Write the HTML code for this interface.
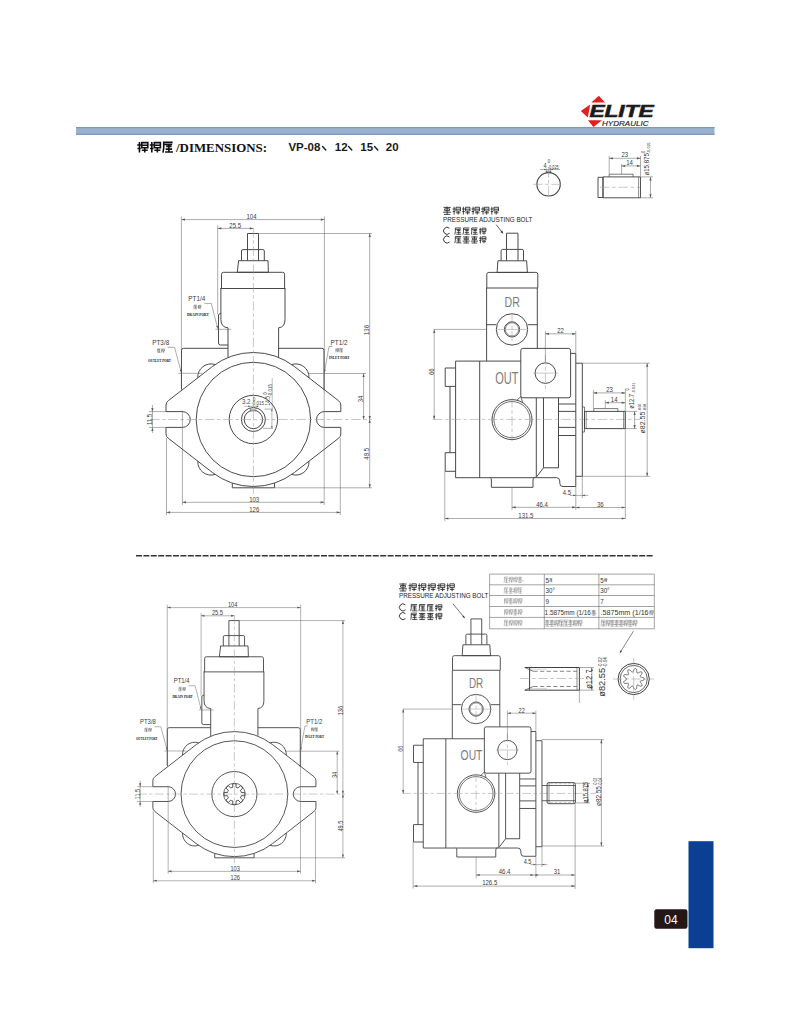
<!DOCTYPE html>
<html><head><meta charset="utf-8">
<style>
html,body{margin:0;padding:0;background:#fff;}
body{width:790px;height:1024px;position:relative;overflow:hidden;font-family:"Liberation Sans",sans-serif;}
svg{position:absolute;left:0;top:0;}
</style></head><body>
<svg width="790" height="1024" viewBox="0 0 790 1024">
<rect x="76" y="127" width="638.5" height="8" fill="#9ab1cf"/>
<rect x="76" y="127" width="638.5" height="1.2" fill="#7d98ba"/>
<rect x="76" y="133.6" width="638.5" height="1.2" fill="#7d98ba"/>
<polygon points="591.2,102.6 598.9,95.8 605,102.6" fill="#e02020"/>
<polygon points="580.8,111 590.2,104.6 587.8,117.4" fill="#e02020"/>
<polygon points="588,120.2 602,120.2 593.4,127" fill="#e02020"/>
<text x="589.5" y="117.3" font-family="Liberation Sans" font-size="16.8" font-weight="bold" font-style="italic" fill="#1a1a1a" stroke="#1a1a1a" stroke-width="0.6" textLength="64" lengthAdjust="spacingAndGlyphs">ELITE</text>
<text x="602" y="126.4" font-family="Liberation Sans" font-size="7.6" font-style="italic" fill="#222" stroke="#222" stroke-width="0.15" textLength="46.5" lengthAdjust="spacingAndGlyphs">HYDRAULIC</text>
<path d="M139.46,142.02V152.6M137.2,145.04H140.98M137.42,148.5H140.76M141.74,142.66H147.78V147.74H141.74ZM141.74,145.26H147.78M144.76,147.74V152.6M141.74,150.22H147.78M151.82,142.02V152.6M149.8,145.04H153.58M150.02,148.5H153.36M154.34,142.66H160.38V147.74H154.34ZM154.34,145.26H160.38M157.36,147.74V152.6M154.34,150.22H160.38M162.94,152.6L163.7,148.28V142.34H172.66M163.7,144.5H172.12M166.18,146.34H171.58M168.88,144.5V152.06M165.64,149.14H172.12M165.1,152.06H172.98" fill="none" stroke="#111" stroke-width="1.6" stroke-linecap="butt"/>
<text x="176" y="152" font-family="Liberation Serif" font-size="13" font-weight="bold" fill="#111" textLength="91" lengthAdjust="spacingAndGlyphs">/DIMENSIONS:</text>
<text x="288.4" y="150.7" font-family="Liberation Sans" font-size="11.5" font-weight="bold" fill="#1a1a1a">VP-08</text>
<text x="334.8" y="150.7" font-family="Liberation Sans" font-size="11.5" font-weight="bold" fill="#1a1a1a">12</text>
<text x="360.3" y="150.7" font-family="Liberation Sans" font-size="11.5" font-weight="bold" fill="#1a1a1a">15</text>
<text x="385.8" y="150.7" font-family="Liberation Sans" font-size="11.5" font-weight="bold" fill="#1a1a1a">20</text>
<path d="M322.6,146.6 l3.2,3.4 M348.6,146.6 l3.2,3.4 M374.6,146.6 l3.2,3.4" stroke="#1a1a1a" stroke-width="1.4" stroke-linecap="round"/>
<line x1="136" y1="555.7" x2="654" y2="555.7" stroke="#333" stroke-width="1.5" stroke-dasharray="6,1.4"/>
<rect x="688.5" y="841.2" width="25" height="107" fill="#0a3f93"/>
<rect x="654.3" y="909.2" width="33.2" height="19.6" rx="2.2" fill="#231815"/>
<text x="670.9" y="923.6" font-family="Liberation Sans" font-size="12" fill="#fff" text-anchor="middle">04</text>
<g><path d="M247.5,249.6 L247.5,233.5 L258.5,233.5 L258.5,249.6" fill="none" stroke="#404040" stroke-width="0.95" stroke-linejoin="round"/><line x1="247.5" y1="249.6" x2="247.5" y2="260.7" stroke="#404040" stroke-width="0.95" /><line x1="258.5" y1="249.6" x2="258.5" y2="260.7" stroke="#404040" stroke-width="0.95" /><path d="M241.5,260.7 V251 Q241.5,249.6 243,249.6 H262.8 Q264.3,249.6 264.3,251 V260.7" fill="none" stroke="#404040" stroke-width="0.95" stroke-linejoin="round"/><path d="M238.6,260.7 L268,260.7 L268.4,272.3 L237.3,272.3 Z" fill="none" stroke="#404040" stroke-width="0.95" stroke-linejoin="round"/><path d="M221.5,288.5 V274.3 Q221.5,272.3 223.5,272.3 H282.6 Q284.6,272.3 284.6,274.3 V288.5" fill="none" stroke="#404040" stroke-width="0.95" stroke-linejoin="round"/><line x1="220.3" y1="288.5" x2="285.4" y2="288.5" stroke="#404040" stroke-width="0.95" /><path d="M220.9,288.5 V319.5 Q220.9,327.3 228,327.8 V357.5" fill="none" stroke="#404040" stroke-width="0.95" stroke-linejoin="round"/><path d="M285,288.5 V319.5 Q285,327.3 278.6,327.8 V357" fill="none" stroke="#404040" stroke-width="0.95" stroke-linejoin="round"/><path d="M220.9,313.2 L218.5,314.6 V343 Q218.5,345 220.5,345 H228" fill="none" stroke="#404040" stroke-width="0.95" stroke-linejoin="round"/><path d="M228,348.3 H183.5 Q181.5,348.3 181.5,350.3 V389.6" fill="none" stroke="#404040" stroke-width="0.95" stroke-linejoin="round"/><path d="M278.6,348.3 H322 Q324,348.3 324,350.3 V390.5" fill="none" stroke="#404040" stroke-width="0.95" stroke-linejoin="round"/><path d="M212.4,366.5 L168.4,400.6 Q166,402.4 166,405 V411.6 H182.4 A7.9,7.9 0 0 1 182.4,427.4 H166 V434 Q166,436.6 168.4,438.4 L212.4,472.5 A67,67 0 0 0 294.4,472.5 L338.4,438.4 Q340.8,436.6 340.8,434 V427.4 H324.4 A7.9,7.9 0 0 1 324.4,411.6 H340.8 V405 Q340.8,402.4 338.4,400.6 L294.4,366.5 A67,67 0 0 0 212.4,366.5" fill="none" stroke="#404040" stroke-width="0.95" stroke-linejoin="round"/><path d="M197.82,377.8 A13.2,13.2 0 0 1 215.07,364.54" fill="none" stroke="#404040" stroke-width="0.95" stroke-linejoin="round"/><path d="M308.98,377.8 A13.2,13.2 0 0 0 291.73,364.54" fill="none" stroke="#404040" stroke-width="0.95" stroke-linejoin="round"/><path d="M197.82,461.2 A13.2,13.2 0 0 0 215.07,474.46" fill="none" stroke="#404040" stroke-width="0.95" stroke-linejoin="round"/><path d="M308.98,461.2 A13.2,13.2 0 0 1 291.73,474.46" fill="none" stroke="#404040" stroke-width="0.95" stroke-linejoin="round"/><path d="M232.3,483.2 V487.8 H274.5 V483.2" fill="none" stroke="#404040" stroke-width="0.95" stroke-linejoin="round"/><circle cx="253.4" cy="419.5" r="57.2" fill="none" stroke="#404040" stroke-width="0.95"/><circle cx="253.4" cy="419.5" r="24.2" fill="none" stroke="#404040" stroke-width="0.95"/><circle cx="253.4" cy="419.5" r="12" fill="none" stroke="#404040" stroke-width="0.95"/><circle cx="253.4" cy="419.5" r="9.2" fill="none" stroke="#404040" stroke-width="0.95"/><path d="M250.4,408.3 L250.4,410.8 L255.8,410.8 L255.8,408.3" fill="none" stroke="#404040" stroke-width="0.7" stroke-linejoin="round"/><rect x="250.6" y="408.5" width="5" height="2.2" fill="#bbb"/><line x1="253.4" y1="228" x2="253.4" y2="495" stroke="#9a9a9a" stroke-width="0.55" stroke-dasharray="9.5 2.6 3.6 2.6"/><line x1="150" y1="419.5" x2="372" y2="419.5" stroke="#9a9a9a" stroke-width="0.55" stroke-dasharray="9.5 2.6 3.6 2.6"/><line x1="181.4" y1="216.5" x2="181.4" y2="389" stroke="#5a5a5a" stroke-width="0.5" /><line x1="324.4" y1="216.5" x2="324.4" y2="390" stroke="#5a5a5a" stroke-width="0.5" /><line x1="181.4" y1="219.6" x2="324.4" y2="219.6" stroke="#5a5a5a" stroke-width="0.5" /><path d="M181.4,219.6 L185,218.5 L185,220.7 Z" fill="#5a5a5a" stroke="none"/><path d="M324.4,219.6 L320.8,220.7 L320.8,218.5 Z" fill="#5a5a5a" stroke="none"/><text transform="translate(251.5,218.8) scale(0.84,1)" font-family="Liberation Sans" font-size="7.2" font-weight="normal" text-anchor="middle" fill="#3a3a3a">104</text><line x1="217.7" y1="225.5" x2="217.7" y2="314" stroke="#5a5a5a" stroke-width="0.5" /><line x1="217.7" y1="228.4" x2="253.4" y2="228.4" stroke="#5a5a5a" stroke-width="0.5" /><path d="M217.7,228.4 L221.3,227.3 L221.3,229.5 Z" fill="#5a5a5a" stroke="none"/><path d="M253.4,228.4 L249.8,229.5 L249.8,227.3 Z" fill="#5a5a5a" stroke="none"/><text transform="translate(235.2,227.9) scale(0.84,1)" font-family="Liberation Sans" font-size="7.2" font-weight="normal" text-anchor="middle" fill="#3a3a3a">25.5</text><line x1="258.5" y1="233.5" x2="372" y2="233.5" stroke="#5a5a5a" stroke-width="0.5" /><line x1="369.7" y1="233.5" x2="369.7" y2="419.5" stroke="#5a5a5a" stroke-width="0.5" /><path d="M369.7,233.5 L370.8,237.1 L368.6,237.1 Z" fill="#5a5a5a" stroke="none"/><path d="M369.7,419.5 L368.6,415.9 L370.8,415.9 Z" fill="#5a5a5a" stroke="none"/><text transform="translate(369.3,330) rotate(-90) scale(0.84,1)" font-family="Liberation Sans" font-size="7.2" font-weight="normal" text-anchor="middle" fill="#3a3a3a">136</text><line x1="308" y1="373.5" x2="366" y2="373.5" stroke="#5a5a5a" stroke-width="0.5" /><line x1="363.6" y1="373.5" x2="363.6" y2="419.5" stroke="#5a5a5a" stroke-width="0.5" /><path d="M363.6,373.5 L364.7,377.1 L362.5,377.1 Z" fill="#5a5a5a" stroke="none"/><path d="M363.6,419.5 L362.5,415.9 L364.7,415.9 Z" fill="#5a5a5a" stroke="none"/><text transform="translate(363.2,399) rotate(-90) scale(0.84,1)" font-family="Liberation Sans" font-size="7.2" font-weight="normal" text-anchor="middle" fill="#3a3a3a">34</text><line x1="274.5" y1="487.8" x2="372" y2="487.8" stroke="#5a5a5a" stroke-width="0.5" /><line x1="369.7" y1="419.5" x2="369.7" y2="487.8" stroke="#5a5a5a" stroke-width="0.5" /><path d="M369.7,419.5 L370.8,423.1 L368.6,423.1 Z" fill="#5a5a5a" stroke="none"/><path d="M369.7,487.8 L368.6,484.2 L370.8,484.2 Z" fill="#5a5a5a" stroke="none"/><text transform="translate(369.3,453.8) rotate(-90) scale(0.84,1)" font-family="Liberation Sans" font-size="7.2" font-weight="normal" text-anchor="middle" fill="#3a3a3a">49.5</text><line x1="182.4" y1="410.5" x2="182.4" y2="505" stroke="#5a5a5a" stroke-width="0.5" /><line x1="324.2" y1="390.5" x2="324.2" y2="505" stroke="#5a5a5a" stroke-width="0.5" /><line x1="182.4" y1="502.3" x2="324.2" y2="502.3" stroke="#5a5a5a" stroke-width="0.5" /><path d="M182.4,502.3 L186,501.2 L186,503.4 Z" fill="#5a5a5a" stroke="none"/><path d="M324.2,502.3 L320.6,503.4 L320.6,501.2 Z" fill="#5a5a5a" stroke="none"/><text transform="translate(254.2,502) scale(0.84,1)" font-family="Liberation Sans" font-size="7.2" font-weight="normal" text-anchor="middle" fill="#3a3a3a">103</text><line x1="166.5" y1="438" x2="166.5" y2="515" stroke="#5a5a5a" stroke-width="0.5" /><line x1="340.3" y1="438" x2="340.3" y2="515" stroke="#5a5a5a" stroke-width="0.5" /><line x1="166.5" y1="512.4" x2="340.3" y2="512.4" stroke="#5a5a5a" stroke-width="0.5" /><path d="M166.5,512.4 L170.1,511.3 L170.1,513.5 Z" fill="#5a5a5a" stroke="none"/><path d="M340.3,512.4 L336.7,513.5 L336.7,511.3 Z" fill="#5a5a5a" stroke="none"/><text transform="translate(254.3,512) scale(0.84,1)" font-family="Liberation Sans" font-size="7.2" font-weight="normal" text-anchor="middle" fill="#3a3a3a">126</text><line x1="149" y1="411.6" x2="166" y2="411.6" stroke="#5a5a5a" stroke-width="0.5" /><line x1="149" y1="427.4" x2="166" y2="427.4" stroke="#5a5a5a" stroke-width="0.5" /><line x1="152.4" y1="405" x2="152.4" y2="433" stroke="#5a5a5a" stroke-width="0.5" /><path d="M152.4,411.6 L151.3,408 L153.5,408 Z" fill="#5a5a5a" stroke="none"/><path d="M152.4,427.4 L153.5,431 L151.3,431 Z" fill="#5a5a5a" stroke="none"/><text transform="translate(151.9,419.5) rotate(-90) scale(0.84,1)" font-family="Liberation Sans" font-size="7.0" font-weight="normal" text-anchor="middle" fill="#3a3a3a">11.5</text><text transform="translate(196.8,300.6) scale(0.86,1)" font-family="Liberation Sans" font-size="7.4" font-weight="normal" text-anchor="middle" fill="#3a3a3a">PT1/4</text><line x1="204.4" y1="303.4" x2="211.3" y2="303.4" stroke="#5a5a5a" stroke-width="0.5" /><line x1="211.3" y1="303.4" x2="217.7" y2="328.5" stroke="#5a5a5a" stroke-width="0.5" /><path d="M217.7,328.8 L216.18,326.09 L217.73,325.7 Z" fill="#5a5a5a" stroke="none"/><line x1="215.3" y1="329.3" x2="231.2" y2="329.3" stroke="#5a5a5a" stroke-width="0.5" /><text transform="translate(160.7,344.6) scale(0.86,1)" font-family="Liberation Sans" font-size="7.4" font-weight="normal" text-anchor="middle" fill="#3a3a3a">PT3/8</text><line x1="167.8" y1="347.3" x2="174.5" y2="347.3" stroke="#5a5a5a" stroke-width="0.5" /><line x1="174.5" y1="347.3" x2="181.3" y2="372.4" stroke="#5a5a5a" stroke-width="0.5" /><path d="M181.4,372.6 L179.84,369.91 L181.39,369.5 Z" fill="#5a5a5a" stroke="none"/><line x1="178.4" y1="373.3" x2="202" y2="373.3" stroke="#5a5a5a" stroke-width="0.5" /><text transform="translate(339,344.6) scale(0.86,1)" font-family="Liberation Sans" font-size="7.4" font-weight="normal" text-anchor="middle" fill="#3a3a3a">PT1/2</text><line x1="332.3" y1="346.5" x2="329" y2="346.5" stroke="#5a5a5a" stroke-width="0.5" /><line x1="329" y1="346.5" x2="324.4" y2="372.5" stroke="#5a5a5a" stroke-width="0.5" /><path d="M324.4,372.6 L324.13,369.51 L325.71,369.79 Z" fill="#5a5a5a" stroke="none"/><path d="M193.77,309L194.02,307.36V305.1H196.91M194.02,305.92H196.74M194.82,306.62H196.56M195.69,305.92V308.79M194.65,307.69H196.74M194.47,308.79H197.02M198.46,304.98V309M197.6,306.13H198.82M197.67,307.44H198.75M199.06,305.23H201.02V307.15H199.06ZM199.06,306.21H201.02M200.04,307.15V309M199.06,308.1H201.02" fill="none" stroke="#666" stroke-width="0.5" stroke-linecap="butt"/><text x="197.9" y="316" font-family="Liberation Serif" font-size="3.9" font-weight="bold" fill="#111" text-anchor="middle" textLength="21.8" lengthAdjust="spacingAndGlyphs">DRAIN PORT</text><path d="M157.27,352.7L157.52,351.06V348.81H160.41M157.52,349.62H160.24M158.32,350.32H160.06M159.19,349.62V352.5M158.15,351.39H160.24M157.97,352.5H160.52M161.68,348.68V352.7M161.1,349.83H162.32M161.17,351.14H162.25M162.56,348.93H164.52V350.86H162.56ZM162.56,349.91H164.52M163.54,350.86V352.7M162.56,351.8H164.52" fill="none" stroke="#666" stroke-width="0.5" stroke-linecap="butt"/><text x="159.6" y="361.6" font-family="Liberation Serif" font-size="3.9" font-weight="bold" fill="#111" text-anchor="middle" textLength="22.8" lengthAdjust="spacingAndGlyphs">OUTLET PORT</text><path d="M336.02,348.28V352.3M335.5,349.43H336.72M335.57,350.74H336.65M336.96,348.53H338.92V350.45H336.96ZM336.96,349.51H338.92M337.94,350.45V352.3M336.96,351.4H338.92M339.67,352.3L339.92,350.66V348.4H342.81M339.92,349.22H342.64M340.72,349.92H342.46M341.59,349.22V352.09M340.55,350.99H342.64M340.37,352.09H342.92" fill="none" stroke="#666" stroke-width="0.5" stroke-linecap="butt"/><text x="339.2" y="359.1" font-family="Liberation Serif" font-size="3.9" font-weight="bold" fill="#111" text-anchor="middle" textLength="20.5" lengthAdjust="spacingAndGlyphs">INLET PORT</text><line x1="244.4" y1="406.3" x2="258.8" y2="406.3" stroke="#5a5a5a" stroke-width="0.45" /><path d="M250.4,406.3 L248.2,407 L248.2,405.6 Z" fill="#5a5a5a" stroke="none"/><path d="M255.8,406.3 L258,405.6 L258,407 Z" fill="#5a5a5a" stroke="none"/><text transform="translate(241.9,404) scale(0.92,1)" font-family="Liberation Sans" font-size="6.6" font-weight="normal" text-anchor="start" fill="#444">3.2</text><text transform="translate(253,400.7) scale(0.9,1)" font-family="Liberation Sans" font-size="4.6" font-weight="normal" text-anchor="start" fill="#444">0</text><text transform="translate(251.4,405.4) scale(0.88,1)" font-family="Liberation Sans" font-size="5" font-weight="normal" text-anchor="start" fill="#444">-0.015</text><line x1="264.5" y1="409.1" x2="273" y2="409.1" stroke="#5a5a5a" stroke-width="0.5" /><line x1="263" y1="428.3" x2="273" y2="428.3" stroke="#5a5a5a" stroke-width="0.5" /><line x1="271.9" y1="409.1" x2="271.9" y2="428.3" stroke="#5a5a5a" stroke-width="0.45" /><path d="M271.9,409.1 L272.6,411.3 L271.2,411.3 Z" fill="#5a5a5a" stroke="none"/><path d="M271.9,428.3 L271.2,426.1 L272.6,426.1 Z" fill="#5a5a5a" stroke="none"/><text transform="translate(269.8,405.4) rotate(-90) scale(0.75,1)" font-family="Liberation Sans" font-size="6.3" font-weight="normal" text-anchor="start" fill="#444">14.5</text><text transform="translate(266.5,394.8) rotate(-90) scale(0.9,1)" font-family="Liberation Sans" font-size="4.6" font-weight="normal" text-anchor="start" fill="#444">0</text><text transform="translate(271.8,396.6) rotate(-90) scale(0.88,1)" font-family="Liberation Sans" font-size="5" font-weight="normal" text-anchor="start" fill="#444">-0.015</text><line x1="272.2" y1="378" x2="272.2" y2="409" stroke="#5a5a5a" stroke-width="0.4" /></g>
<g transform="translate(-2.02,402.71) scale(0.933)"><path d="M247.5,249.6 L247.5,233.5 L258.5,233.5 L258.5,249.6" fill="none" stroke="#404040" stroke-width="0.95" stroke-linejoin="round"/><line x1="247.5" y1="249.6" x2="247.5" y2="260.7" stroke="#404040" stroke-width="0.95" /><line x1="258.5" y1="249.6" x2="258.5" y2="260.7" stroke="#404040" stroke-width="0.95" /><path d="M241.5,260.7 V251 Q241.5,249.6 243,249.6 H262.8 Q264.3,249.6 264.3,251 V260.7" fill="none" stroke="#404040" stroke-width="0.95" stroke-linejoin="round"/><path d="M238.6,260.7 L268,260.7 L268.4,272.3 L237.3,272.3 Z" fill="none" stroke="#404040" stroke-width="0.95" stroke-linejoin="round"/><path d="M221.5,288.5 V274.3 Q221.5,272.3 223.5,272.3 H282.6 Q284.6,272.3 284.6,274.3 V288.5" fill="none" stroke="#404040" stroke-width="0.95" stroke-linejoin="round"/><line x1="220.3" y1="288.5" x2="285.4" y2="288.5" stroke="#404040" stroke-width="0.95" /><path d="M220.9,288.5 V319.5 Q220.9,327.3 228,327.8 V357.5" fill="none" stroke="#404040" stroke-width="0.95" stroke-linejoin="round"/><path d="M285,288.5 V319.5 Q285,327.3 278.6,327.8 V357" fill="none" stroke="#404040" stroke-width="0.95" stroke-linejoin="round"/><path d="M220.9,313.2 L218.5,314.6 V343 Q218.5,345 220.5,345 H228" fill="none" stroke="#404040" stroke-width="0.95" stroke-linejoin="round"/><path d="M228,348.3 H183.5 Q181.5,348.3 181.5,350.3 V389.6" fill="none" stroke="#404040" stroke-width="0.95" stroke-linejoin="round"/><path d="M278.6,348.3 H322 Q324,348.3 324,350.3 V390.5" fill="none" stroke="#404040" stroke-width="0.95" stroke-linejoin="round"/><path d="M212.4,366.5 L168.4,400.6 Q166,402.4 166,405 V411.6 H182.4 A7.9,7.9 0 0 1 182.4,427.4 H166 V434 Q166,436.6 168.4,438.4 L212.4,472.5 A67,67 0 0 0 294.4,472.5 L338.4,438.4 Q340.8,436.6 340.8,434 V427.4 H324.4 A7.9,7.9 0 0 1 324.4,411.6 H340.8 V405 Q340.8,402.4 338.4,400.6 L294.4,366.5 A67,67 0 0 0 212.4,366.5" fill="none" stroke="#404040" stroke-width="0.95" stroke-linejoin="round"/><path d="M197.82,377.8 A13.2,13.2 0 0 1 215.07,364.54" fill="none" stroke="#404040" stroke-width="0.95" stroke-linejoin="round"/><path d="M308.98,377.8 A13.2,13.2 0 0 0 291.73,364.54" fill="none" stroke="#404040" stroke-width="0.95" stroke-linejoin="round"/><path d="M197.82,461.2 A13.2,13.2 0 0 0 215.07,474.46" fill="none" stroke="#404040" stroke-width="0.95" stroke-linejoin="round"/><path d="M308.98,461.2 A13.2,13.2 0 0 1 291.73,474.46" fill="none" stroke="#404040" stroke-width="0.95" stroke-linejoin="round"/><path d="M232.3,483.2 V487.8 H274.5 V483.2" fill="none" stroke="#404040" stroke-width="0.95" stroke-linejoin="round"/><circle cx="253.4" cy="419.5" r="57.2" fill="none" stroke="#404040" stroke-width="0.95"/><circle cx="253.4" cy="419.5" r="24.2" fill="none" stroke="#404040" stroke-width="0.95"/><path d="M251.58,408.55 A11.1,11.1 0 0 1 255.22,408.55 L255.12,412.1 A7.6,7.6 0 0 1 257.42,413.05 L259.85,410.47 A11.1,11.1 0 0 1 262.43,413.05 L259.85,415.48 A7.6,7.6 0 0 1 260.8,417.78 L264.35,417.68 A11.1,11.1 0 0 1 264.35,421.32 L260.8,421.22 A7.6,7.6 0 0 1 259.85,423.52 L262.43,425.95 A11.1,11.1 0 0 1 259.85,428.53 L257.42,425.95 A7.6,7.6 0 0 1 255.12,426.9 L255.22,430.45 A11.1,11.1 0 0 1 251.58,430.45 L251.68,426.9 A7.6,7.6 0 0 1 249.38,425.95 L246.95,428.53 A11.1,11.1 0 0 1 244.37,425.95 L246.95,423.52 A7.6,7.6 0 0 1 246,421.22 L242.45,421.32 A11.1,11.1 0 0 1 242.45,417.68 L246,417.78 A7.6,7.6 0 0 1 246.95,415.48 L244.37,413.05 A11.1,11.1 0 0 1 246.95,410.47 L249.38,413.05 A7.6,7.6 0 0 1 251.68,412.1 L251.58,408.55 Z" fill="none" stroke="#404040" stroke-width="0.95" stroke-linejoin="round"/><circle cx="253.4" cy="419.5" r="11.6" fill="none" stroke="#404040" stroke-width="0.8"/><line x1="253.4" y1="228" x2="253.4" y2="495" stroke="#9a9a9a" stroke-width="0.55" stroke-dasharray="9.5 2.6 3.6 2.6"/><line x1="150" y1="419.5" x2="372" y2="419.5" stroke="#9a9a9a" stroke-width="0.55" stroke-dasharray="9.5 2.6 3.6 2.6"/><line x1="181.4" y1="216.5" x2="181.4" y2="389" stroke="#5a5a5a" stroke-width="0.5" /><line x1="324.4" y1="216.5" x2="324.4" y2="390" stroke="#5a5a5a" stroke-width="0.5" /><line x1="181.4" y1="219.6" x2="324.4" y2="219.6" stroke="#5a5a5a" stroke-width="0.5" /><path d="M181.4,219.6 L185,218.5 L185,220.7 Z" fill="#5a5a5a" stroke="none"/><path d="M324.4,219.6 L320.8,220.7 L320.8,218.5 Z" fill="#5a5a5a" stroke="none"/><text transform="translate(251.5,218.8) scale(0.84,1)" font-family="Liberation Sans" font-size="7.2" font-weight="normal" text-anchor="middle" fill="#3a3a3a">104</text><line x1="217.7" y1="225.5" x2="217.7" y2="314" stroke="#5a5a5a" stroke-width="0.5" /><line x1="217.7" y1="228.4" x2="253.4" y2="228.4" stroke="#5a5a5a" stroke-width="0.5" /><path d="M217.7,228.4 L221.3,227.3 L221.3,229.5 Z" fill="#5a5a5a" stroke="none"/><path d="M253.4,228.4 L249.8,229.5 L249.8,227.3 Z" fill="#5a5a5a" stroke="none"/><text transform="translate(235.2,227.9) scale(0.84,1)" font-family="Liberation Sans" font-size="7.2" font-weight="normal" text-anchor="middle" fill="#3a3a3a">25.5</text><line x1="258.5" y1="233.5" x2="372" y2="233.5" stroke="#5a5a5a" stroke-width="0.5" /><line x1="369.7" y1="233.5" x2="369.7" y2="419.5" stroke="#5a5a5a" stroke-width="0.5" /><path d="M369.7,233.5 L370.8,237.1 L368.6,237.1 Z" fill="#5a5a5a" stroke="none"/><path d="M369.7,419.5 L368.6,415.9 L370.8,415.9 Z" fill="#5a5a5a" stroke="none"/><text transform="translate(369.3,330) rotate(-90) scale(0.84,1)" font-family="Liberation Sans" font-size="7.2" font-weight="normal" text-anchor="middle" fill="#3a3a3a">136</text><line x1="308" y1="373.5" x2="366" y2="373.5" stroke="#5a5a5a" stroke-width="0.5" /><line x1="363.6" y1="373.5" x2="363.6" y2="419.5" stroke="#5a5a5a" stroke-width="0.5" /><path d="M363.6,373.5 L364.7,377.1 L362.5,377.1 Z" fill="#5a5a5a" stroke="none"/><path d="M363.6,419.5 L362.5,415.9 L364.7,415.9 Z" fill="#5a5a5a" stroke="none"/><text transform="translate(363.2,399) rotate(-90) scale(0.84,1)" font-family="Liberation Sans" font-size="7.2" font-weight="normal" text-anchor="middle" fill="#3a3a3a">34</text><line x1="274.5" y1="487.8" x2="372" y2="487.8" stroke="#5a5a5a" stroke-width="0.5" /><line x1="369.7" y1="419.5" x2="369.7" y2="487.8" stroke="#5a5a5a" stroke-width="0.5" /><path d="M369.7,419.5 L370.8,423.1 L368.6,423.1 Z" fill="#5a5a5a" stroke="none"/><path d="M369.7,487.8 L368.6,484.2 L370.8,484.2 Z" fill="#5a5a5a" stroke="none"/><text transform="translate(369.3,453.8) rotate(-90) scale(0.84,1)" font-family="Liberation Sans" font-size="7.2" font-weight="normal" text-anchor="middle" fill="#3a3a3a">49.5</text><line x1="182.4" y1="410.5" x2="182.4" y2="505" stroke="#5a5a5a" stroke-width="0.5" /><line x1="324.2" y1="390.5" x2="324.2" y2="505" stroke="#5a5a5a" stroke-width="0.5" /><line x1="182.4" y1="502.3" x2="324.2" y2="502.3" stroke="#5a5a5a" stroke-width="0.5" /><path d="M182.4,502.3 L186,501.2 L186,503.4 Z" fill="#5a5a5a" stroke="none"/><path d="M324.2,502.3 L320.6,503.4 L320.6,501.2 Z" fill="#5a5a5a" stroke="none"/><text transform="translate(254.2,502) scale(0.84,1)" font-family="Liberation Sans" font-size="7.2" font-weight="normal" text-anchor="middle" fill="#3a3a3a">103</text><line x1="166.5" y1="438" x2="166.5" y2="515" stroke="#5a5a5a" stroke-width="0.5" /><line x1="340.3" y1="438" x2="340.3" y2="515" stroke="#5a5a5a" stroke-width="0.5" /><line x1="166.5" y1="512.4" x2="340.3" y2="512.4" stroke="#5a5a5a" stroke-width="0.5" /><path d="M166.5,512.4 L170.1,511.3 L170.1,513.5 Z" fill="#5a5a5a" stroke="none"/><path d="M340.3,512.4 L336.7,513.5 L336.7,511.3 Z" fill="#5a5a5a" stroke="none"/><text transform="translate(254.3,512) scale(0.84,1)" font-family="Liberation Sans" font-size="7.2" font-weight="normal" text-anchor="middle" fill="#3a3a3a">126</text><line x1="149" y1="411.6" x2="166" y2="411.6" stroke="#5a5a5a" stroke-width="0.5" /><line x1="149" y1="427.4" x2="166" y2="427.4" stroke="#5a5a5a" stroke-width="0.5" /><line x1="152.4" y1="405" x2="152.4" y2="433" stroke="#5a5a5a" stroke-width="0.5" /><path d="M152.4,411.6 L151.3,408 L153.5,408 Z" fill="#5a5a5a" stroke="none"/><path d="M152.4,427.4 L153.5,431 L151.3,431 Z" fill="#5a5a5a" stroke="none"/><text transform="translate(151.9,419.5) rotate(-90) scale(0.84,1)" font-family="Liberation Sans" font-size="7.0" font-weight="normal" text-anchor="middle" fill="#3a3a3a">11.5</text><text transform="translate(196.8,300.6) scale(0.86,1)" font-family="Liberation Sans" font-size="7.4" font-weight="normal" text-anchor="middle" fill="#3a3a3a">PT1/4</text><line x1="204.4" y1="303.4" x2="211.3" y2="303.4" stroke="#5a5a5a" stroke-width="0.5" /><line x1="211.3" y1="303.4" x2="217.7" y2="328.5" stroke="#5a5a5a" stroke-width="0.5" /><path d="M217.7,328.8 L216.18,326.09 L217.73,325.7 Z" fill="#5a5a5a" stroke="none"/><line x1="215.3" y1="329.3" x2="231.2" y2="329.3" stroke="#5a5a5a" stroke-width="0.5" /><text transform="translate(160.7,344.6) scale(0.86,1)" font-family="Liberation Sans" font-size="7.4" font-weight="normal" text-anchor="middle" fill="#3a3a3a">PT3/8</text><line x1="167.8" y1="347.3" x2="174.5" y2="347.3" stroke="#5a5a5a" stroke-width="0.5" /><line x1="174.5" y1="347.3" x2="181.3" y2="372.4" stroke="#5a5a5a" stroke-width="0.5" /><path d="M181.4,372.6 L179.84,369.91 L181.39,369.5 Z" fill="#5a5a5a" stroke="none"/><line x1="178.4" y1="373.3" x2="202" y2="373.3" stroke="#5a5a5a" stroke-width="0.5" /><text transform="translate(339,344.6) scale(0.86,1)" font-family="Liberation Sans" font-size="7.4" font-weight="normal" text-anchor="middle" fill="#3a3a3a">PT1/2</text><line x1="332.3" y1="346.5" x2="329" y2="346.5" stroke="#5a5a5a" stroke-width="0.5" /><line x1="329" y1="346.5" x2="324.4" y2="372.5" stroke="#5a5a5a" stroke-width="0.5" /><path d="M324.4,372.6 L324.13,369.51 L325.71,369.79 Z" fill="#5a5a5a" stroke="none"/><path d="M193.77,309L194.02,307.36V305.1H196.91M194.02,305.92H196.74M194.82,306.62H196.56M195.69,305.92V308.79M194.65,307.69H196.74M194.47,308.79H197.02M198.46,304.98V309M197.6,306.13H198.82M197.67,307.44H198.75M199.06,305.23H201.02V307.15H199.06ZM199.06,306.21H201.02M200.04,307.15V309M199.06,308.1H201.02" fill="none" stroke="#666" stroke-width="0.5" stroke-linecap="butt"/><text x="197.9" y="316" font-family="Liberation Serif" font-size="3.9" font-weight="bold" fill="#111" text-anchor="middle" textLength="21.8" lengthAdjust="spacingAndGlyphs">DRAIN PORT</text><path d="M157.27,352.7L157.52,351.06V348.81H160.41M157.52,349.62H160.24M158.32,350.32H160.06M159.19,349.62V352.5M158.15,351.39H160.24M157.97,352.5H160.52M161.68,348.68V352.7M161.1,349.83H162.32M161.17,351.14H162.25M162.56,348.93H164.52V350.86H162.56ZM162.56,349.91H164.52M163.54,350.86V352.7M162.56,351.8H164.52" fill="none" stroke="#666" stroke-width="0.5" stroke-linecap="butt"/><text x="159.6" y="361.6" font-family="Liberation Serif" font-size="3.9" font-weight="bold" fill="#111" text-anchor="middle" textLength="22.8" lengthAdjust="spacingAndGlyphs">OUTLET PORT</text><path d="M336.02,348.28V352.3M335.5,349.43H336.72M335.57,350.74H336.65M336.96,348.53H338.92V350.45H336.96ZM336.96,349.51H338.92M337.94,350.45V352.3M336.96,351.4H338.92M339.67,352.3L339.92,350.66V348.4H342.81M339.92,349.22H342.64M340.72,349.92H342.46M341.59,349.22V352.09M340.55,350.99H342.64M340.37,352.09H342.92" fill="none" stroke="#666" stroke-width="0.5" stroke-linecap="butt"/><text x="339.2" y="359.1" font-family="Liberation Serif" font-size="3.9" font-weight="bold" fill="#111" text-anchor="middle" textLength="20.5" lengthAdjust="spacingAndGlyphs">INLET PORT</text></g>
<g><path d="M506.5,249.4 L506.5,233.2 L518,233.2 L518,249.4" fill="none" stroke="#404040" stroke-width="0.95" stroke-linejoin="round"/><line x1="506.5" y1="249.4" x2="506.5" y2="260.6" stroke="#404040" stroke-width="0.95" /><line x1="518" y1="249.4" x2="518" y2="260.6" stroke="#404040" stroke-width="0.95" /><path d="M501.1,260.6 V250.8 Q501.1,249.4 502.5,249.4 H522.1 Q523.5,249.4 523.5,250.8 V260.6" fill="none" stroke="#404040" stroke-width="0.95" stroke-linejoin="round"/><path d="M497.9,260.8 L526.6,260.8 L527.4,272.4 L497.1,272.4 Z" fill="none" stroke="#404040" stroke-width="0.95" stroke-linejoin="round"/><path d="M486.8,288 V274.4 Q486.8,272.4 488.8,272.4 H535.8 Q537.8,272.4 537.8,274.4 V288" fill="none" stroke="#404040" stroke-width="0.95" stroke-linejoin="round"/><line x1="486.6" y1="288" x2="537.6" y2="288" stroke="#404040" stroke-width="0.95" /><line x1="486.6" y1="288" x2="486.6" y2="361.1" stroke="#404040" stroke-width="0.95" /><line x1="537.3" y1="288" x2="537.3" y2="348.4" stroke="#404040" stroke-width="0.95" /><line x1="486.6" y1="324.7" x2="496.3" y2="324.7" stroke="#404040" stroke-width="0.95" /><line x1="527.7" y1="324.7" x2="537.3" y2="324.7" stroke="#404040" stroke-width="0.95" /><circle cx="512" cy="329.4" r="15.7" fill="none" stroke="#404040" stroke-width="0.95"/><circle cx="512" cy="329.4" r="7.6" fill="none" stroke="#404040" stroke-width="0.95"/><circle cx="512" cy="329.4" r="6.6" fill="none" stroke="#404040" stroke-width="0.6"/><path d="M455.6,361.1 H520.8" fill="none" stroke="#404040" stroke-width="0.95" stroke-linejoin="round"/><line x1="455.6" y1="361.1" x2="455.6" y2="477.7" stroke="#404040" stroke-width="0.95" /><line x1="479.7" y1="361.1" x2="479.7" y2="477.7" stroke="#404040" stroke-width="0.95" /><line x1="455.6" y1="477.7" x2="535.4" y2="477.7" stroke="#404040" stroke-width="0.95" /><path d="M455.6,368 L445.2,368 L445.2,386.4 L455.6,386.4" fill="none" stroke="#404040" stroke-width="0.95" stroke-linejoin="round"/><line x1="450" y1="386.4" x2="450" y2="452.7" stroke="#404040" stroke-width="0.95" /><path d="M455.6,452.7 L445.2,452.7 L445.2,471.3 L455.6,471.3" fill="none" stroke="#404040" stroke-width="0.95" stroke-linejoin="round"/><path d="M490.3,477.7 Q491.4,478 491.4,480 V487.3 H533 V480 Q533,478 534.2,477.7" fill="none" stroke="#404040" stroke-width="0.95" stroke-linejoin="round"/><path d="M522.8,348.4 H568.5 Q570.6,348.4 570.6,350.5 V395.7 Q570.6,397.8 568.5,397.8 H522.8 Q520.8,397.8 520.8,395.7 V350.5 Q520.8,348.4 522.8,348.4 Z" fill="none" stroke="#404040" stroke-width="0.95" stroke-linejoin="round"/><circle cx="545.4" cy="373.1" r="10.3" fill="none" stroke="#404040" stroke-width="0.95"/><circle cx="512" cy="419.6" r="20" fill="none" stroke="#404040" stroke-width="0.95"/><circle cx="512" cy="419.6" r="18.1" fill="none" stroke="#404040" stroke-width="0.75"/><path d="M517,400.2 L520.8,396.6 L522.6,402.4" fill="none" stroke="#404040" stroke-width="0.8" stroke-linejoin="round"/><line x1="536.3" y1="397.8" x2="536.3" y2="476.5" stroke="#404040" stroke-width="0.95" /><line x1="543.5" y1="397.8" x2="543.5" y2="467.8" stroke="#404040" stroke-width="0.95" /><line x1="543.5" y1="467.8" x2="536.3" y2="477.2" stroke="#404040" stroke-width="0.95" /><line x1="543.5" y1="467.8" x2="558.5" y2="467.8" stroke="#404040" stroke-width="0.95" /><line x1="558.5" y1="397.8" x2="558.5" y2="468" stroke="#404040" stroke-width="0.95" /><line x1="558.5" y1="404" x2="575.8" y2="404" stroke="#404040" stroke-width="0.95" /><line x1="558.5" y1="411.4" x2="575.8" y2="411.4" stroke="#404040" stroke-width="0.95" /><line x1="558.5" y1="427.4" x2="575.8" y2="427.4" stroke="#404040" stroke-width="0.95" /><line x1="558.5" y1="435.5" x2="575.8" y2="435.5" stroke="#404040" stroke-width="0.95" /><path d="M570.6,353.4 L575.8,353.4 L575.8,486.5" fill="none" stroke="#404040" stroke-width="0.95" stroke-linejoin="round"/><path d="M534,477.7 Q536,477 536.3,476.5" fill="none" stroke="#404040" stroke-width="0.7" stroke-linejoin="round"/><path d="M535.4,477.7 H556.5 Q559.6,477.7 559.8,481 V483.5 Q560,486.5 563,486.5 H575.8" fill="none" stroke="#404040" stroke-width="0.95" stroke-linejoin="round"/><line x1="575.8" y1="363.2" x2="582.3" y2="363.2" stroke="#404040" stroke-width="0.95" /><line x1="582.3" y1="363.2" x2="582.3" y2="476.3" stroke="#404040" stroke-width="0.95" /><line x1="575.8" y1="476.3" x2="582.3" y2="476.3" stroke="#404040" stroke-width="0.95" /><line x1="433" y1="419.4" x2="640" y2="419.4" stroke="#9a9a9a" stroke-width="0.55" stroke-dasharray="9.5 2.6 3.6 2.6"/><line x1="512" y1="313.4" x2="512" y2="345.4" stroke="#9a9a9a" stroke-width="0.55" stroke-dasharray="9.5 2.6 3.6 2.6"/><line x1="545.4" y1="355" x2="545.4" y2="392" stroke="#9a9a9a" stroke-width="0.55" stroke-dasharray="9.5 2.6 3.6 2.6"/><line x1="533" y1="373.1" x2="558" y2="373.1" stroke="#9a9a9a" stroke-width="0.55" /><line x1="512" y1="398" x2="512" y2="441" stroke="#9a9a9a" stroke-width="0.55" stroke-dasharray="9.5 2.6 3.6 2.6"/><line x1="496" y1="329.4" x2="528" y2="329.4" stroke="#9a9a9a" stroke-width="0.55" /><line x1="433.8" y1="329.4" x2="486" y2="329.4" stroke="#5a5a5a" stroke-width="0.5" /><line x1="434.2" y1="329.4" x2="434.2" y2="419.4" stroke="#5a5a5a" stroke-width="0.5" /><path d="M434.2,329.4 L435.3,333 L433.1,333 Z" fill="#5a5a5a" stroke="none"/><path d="M434.2,419.4 L433.1,415.8 L435.3,415.8 Z" fill="#5a5a5a" stroke="none"/><text transform="translate(433.9,371.7) rotate(-90) scale(0.84,1)" font-family="Liberation Sans" font-size="7.2" font-weight="normal" text-anchor="middle" fill="#3a3a3a">66</text><line x1="545.4" y1="331" x2="545.4" y2="362" stroke="#5a5a5a" stroke-width="0.5" /><line x1="575.8" y1="331" x2="575.8" y2="353" stroke="#5a5a5a" stroke-width="0.5" /><line x1="545.4" y1="333.8" x2="575.8" y2="333.8" stroke="#5a5a5a" stroke-width="0.5" /><path d="M545.4,333.8 L549,332.7 L549,334.9 Z" fill="#5a5a5a" stroke="none"/><path d="M575.8,333.8 L572.2,334.9 L572.2,332.7 Z" fill="#5a5a5a" stroke="none"/><text transform="translate(560.6,333.1) scale(0.84,1)" font-family="Liberation Sans" font-size="7.2" font-weight="normal" text-anchor="middle" fill="#3a3a3a">22</text><line x1="444.8" y1="471.3" x2="444.8" y2="521" stroke="#5a5a5a" stroke-width="0.5" /><line x1="512" y1="487.2" x2="512" y2="510" stroke="#5a5a5a" stroke-width="0.5" /><line x1="575.8" y1="486.5" x2="575.8" y2="510" stroke="#5a5a5a" stroke-width="0.5" /><line x1="582.3" y1="476.3" x2="582.3" y2="498" stroke="#5a5a5a" stroke-width="0.5" /><line x1="570" y1="495.4" x2="588.2" y2="495.4" stroke="#5a5a5a" stroke-width="0.5" /><path d="M575.8,495.4 L573.2,496.2 L573.2,494.6 Z" fill="#5a5a5a" stroke="none"/><path d="M582.3,495.4 L584.9,494.6 L584.9,496.2 Z" fill="#5a5a5a" stroke="none"/><text transform="translate(566.9,495.1) scale(0.84,1)" font-family="Liberation Sans" font-size="7.0" font-weight="normal" text-anchor="middle" fill="#3a3a3a">4.5</text></g>
<g transform="translate(-3.64,400.42) scale(0.937)"><path d="M506.5,249.4 L506.5,233.2 L518,233.2 L518,249.4" fill="none" stroke="#404040" stroke-width="0.95" stroke-linejoin="round"/><line x1="506.5" y1="249.4" x2="506.5" y2="260.6" stroke="#404040" stroke-width="0.95" /><line x1="518" y1="249.4" x2="518" y2="260.6" stroke="#404040" stroke-width="0.95" /><path d="M501.1,260.6 V250.8 Q501.1,249.4 502.5,249.4 H522.1 Q523.5,249.4 523.5,250.8 V260.6" fill="none" stroke="#404040" stroke-width="0.95" stroke-linejoin="round"/><path d="M497.9,260.8 L526.6,260.8 L527.4,272.4 L497.1,272.4 Z" fill="none" stroke="#404040" stroke-width="0.95" stroke-linejoin="round"/><path d="M486.8,288 V274.4 Q486.8,272.4 488.8,272.4 H535.8 Q537.8,272.4 537.8,274.4 V288" fill="none" stroke="#404040" stroke-width="0.95" stroke-linejoin="round"/><line x1="486.6" y1="288" x2="537.6" y2="288" stroke="#404040" stroke-width="0.95" /><line x1="486.6" y1="288" x2="486.6" y2="361.1" stroke="#404040" stroke-width="0.95" /><line x1="537.3" y1="288" x2="537.3" y2="348.4" stroke="#404040" stroke-width="0.95" /><line x1="486.6" y1="324.7" x2="496.3" y2="324.7" stroke="#404040" stroke-width="0.95" /><line x1="527.7" y1="324.7" x2="537.3" y2="324.7" stroke="#404040" stroke-width="0.95" /><circle cx="512" cy="329.4" r="15.7" fill="none" stroke="#404040" stroke-width="0.95"/><circle cx="512" cy="329.4" r="7.6" fill="none" stroke="#404040" stroke-width="0.95"/><circle cx="512" cy="329.4" r="6.6" fill="none" stroke="#404040" stroke-width="0.6"/><path d="M455.6,361.1 H520.8" fill="none" stroke="#404040" stroke-width="0.95" stroke-linejoin="round"/><line x1="455.6" y1="361.1" x2="455.6" y2="477.7" stroke="#404040" stroke-width="0.95" /><line x1="479.7" y1="361.1" x2="479.7" y2="477.7" stroke="#404040" stroke-width="0.95" /><line x1="455.6" y1="477.7" x2="535.4" y2="477.7" stroke="#404040" stroke-width="0.95" /><path d="M455.6,368 L445.2,368 L445.2,386.4 L455.6,386.4" fill="none" stroke="#404040" stroke-width="0.95" stroke-linejoin="round"/><line x1="450" y1="386.4" x2="450" y2="452.7" stroke="#404040" stroke-width="0.95" /><path d="M455.6,452.7 L445.2,452.7 L445.2,471.3 L455.6,471.3" fill="none" stroke="#404040" stroke-width="0.95" stroke-linejoin="round"/><path d="M490.3,477.7 Q491.4,478 491.4,480 V487.3 H533 V480 Q533,478 534.2,477.7" fill="none" stroke="#404040" stroke-width="0.95" stroke-linejoin="round"/><path d="M522.8,348.4 H568.5 Q570.6,348.4 570.6,350.5 V395.7 Q570.6,397.8 568.5,397.8 H522.8 Q520.8,397.8 520.8,395.7 V350.5 Q520.8,348.4 522.8,348.4 Z" fill="none" stroke="#404040" stroke-width="0.95" stroke-linejoin="round"/><circle cx="545.4" cy="373.1" r="10.3" fill="none" stroke="#404040" stroke-width="0.95"/><circle cx="512" cy="419.6" r="20" fill="none" stroke="#404040" stroke-width="0.95"/><circle cx="512" cy="419.6" r="18.1" fill="none" stroke="#404040" stroke-width="0.75"/><path d="M517,400.2 L520.8,396.6 L522.6,402.4" fill="none" stroke="#404040" stroke-width="0.8" stroke-linejoin="round"/><line x1="536.3" y1="397.8" x2="536.3" y2="476.5" stroke="#404040" stroke-width="0.95" /><line x1="543.5" y1="397.8" x2="543.5" y2="467.8" stroke="#404040" stroke-width="0.95" /><line x1="543.5" y1="467.8" x2="536.3" y2="477.2" stroke="#404040" stroke-width="0.95" /><line x1="543.5" y1="467.8" x2="558.5" y2="467.8" stroke="#404040" stroke-width="0.95" /><line x1="558.5" y1="397.8" x2="558.5" y2="468" stroke="#404040" stroke-width="0.95" /><line x1="558.5" y1="404" x2="575.8" y2="404" stroke="#404040" stroke-width="0.95" /><line x1="558.5" y1="411.4" x2="575.8" y2="411.4" stroke="#404040" stroke-width="0.95" /><line x1="558.5" y1="427.4" x2="575.8" y2="427.4" stroke="#404040" stroke-width="0.95" /><line x1="558.5" y1="435.5" x2="575.8" y2="435.5" stroke="#404040" stroke-width="0.95" /><path d="M570.6,353.4 L575.8,353.4 L575.8,486.5" fill="none" stroke="#404040" stroke-width="0.95" stroke-linejoin="round"/><path d="M534,477.7 Q536,477 536.3,476.5" fill="none" stroke="#404040" stroke-width="0.7" stroke-linejoin="round"/><path d="M535.4,477.7 H556.5 Q559.6,477.7 559.8,481 V483.5 Q560,486.5 563,486.5 H575.8" fill="none" stroke="#404040" stroke-width="0.95" stroke-linejoin="round"/><line x1="575.8" y1="363.2" x2="582.3" y2="363.2" stroke="#404040" stroke-width="0.95" /><line x1="582.3" y1="363.2" x2="582.3" y2="476.3" stroke="#404040" stroke-width="0.95" /><line x1="575.8" y1="476.3" x2="582.3" y2="476.3" stroke="#404040" stroke-width="0.95" /><line x1="433" y1="419.4" x2="640" y2="419.4" stroke="#9a9a9a" stroke-width="0.55" stroke-dasharray="9.5 2.6 3.6 2.6"/><line x1="512" y1="313.4" x2="512" y2="345.4" stroke="#9a9a9a" stroke-width="0.55" stroke-dasharray="9.5 2.6 3.6 2.6"/><line x1="545.4" y1="355" x2="545.4" y2="392" stroke="#9a9a9a" stroke-width="0.55" stroke-dasharray="9.5 2.6 3.6 2.6"/><line x1="533" y1="373.1" x2="558" y2="373.1" stroke="#9a9a9a" stroke-width="0.55" /><line x1="512" y1="398" x2="512" y2="441" stroke="#9a9a9a" stroke-width="0.55" stroke-dasharray="9.5 2.6 3.6 2.6"/><line x1="496" y1="329.4" x2="528" y2="329.4" stroke="#9a9a9a" stroke-width="0.55" /><line x1="433.8" y1="329.4" x2="486" y2="329.4" stroke="#5a5a5a" stroke-width="0.5" /><line x1="434.2" y1="329.4" x2="434.2" y2="419.4" stroke="#5a5a5a" stroke-width="0.5" /><path d="M434.2,329.4 L435.3,333 L433.1,333 Z" fill="#5a5a5a" stroke="none"/><path d="M434.2,419.4 L433.1,415.8 L435.3,415.8 Z" fill="#5a5a5a" stroke="none"/><text transform="translate(433.9,371.7) rotate(-90) scale(0.84,1)" font-family="Liberation Sans" font-size="7.2" font-weight="normal" text-anchor="middle" fill="#3a3a3a">66</text><line x1="545.4" y1="331" x2="545.4" y2="362" stroke="#5a5a5a" stroke-width="0.5" /><line x1="575.8" y1="331" x2="575.8" y2="353" stroke="#5a5a5a" stroke-width="0.5" /><line x1="545.4" y1="333.8" x2="575.8" y2="333.8" stroke="#5a5a5a" stroke-width="0.5" /><path d="M545.4,333.8 L549,332.7 L549,334.9 Z" fill="#5a5a5a" stroke="none"/><path d="M575.8,333.8 L572.2,334.9 L572.2,332.7 Z" fill="#5a5a5a" stroke="none"/><text transform="translate(560.6,333.1) scale(0.84,1)" font-family="Liberation Sans" font-size="7.2" font-weight="normal" text-anchor="middle" fill="#3a3a3a">22</text><line x1="444.8" y1="471.3" x2="444.8" y2="521" stroke="#5a5a5a" stroke-width="0.5" /><line x1="512" y1="487.2" x2="512" y2="510" stroke="#5a5a5a" stroke-width="0.5" /><line x1="575.8" y1="486.5" x2="575.8" y2="510" stroke="#5a5a5a" stroke-width="0.5" /><line x1="582.3" y1="476.3" x2="582.3" y2="498" stroke="#5a5a5a" stroke-width="0.5" /><line x1="570" y1="495.4" x2="588.2" y2="495.4" stroke="#5a5a5a" stroke-width="0.5" /><path d="M575.8,495.4 L573.2,496.2 L573.2,494.6 Z" fill="#5a5a5a" stroke="none"/><path d="M582.3,495.4 L584.9,494.6 L584.9,496.2 Z" fill="#5a5a5a" stroke="none"/><text transform="translate(566.9,495.1) scale(0.84,1)" font-family="Liberation Sans" font-size="7.0" font-weight="normal" text-anchor="middle" fill="#3a3a3a">4.5</text></g>
<g><path d="M582.3,407 L584.5,407 L584.5,432 L582.3,432" fill="none" stroke="#404040" stroke-width="0.7" stroke-linejoin="round"/><path d="M584.5,411.4 L625.3,411.4 L625.3,428.6 L584.5,428.6 Z" fill="none" stroke="#404040" stroke-width="0.95" stroke-linejoin="round"/><line x1="586.2" y1="411.4" x2="586.2" y2="428.6" stroke="#404040" stroke-width="0.6" /><line x1="623.6" y1="411.4" x2="623.6" y2="428.6" stroke="#404040" stroke-width="0.6" /><path d="M593.8,411.4 L593.8,408.6 L617.9,408.6 L617.9,411.4" fill="none" stroke="#404040" stroke-width="0.7" stroke-linejoin="round"/><line x1="593.4" y1="390" x2="593.4" y2="408.6" stroke="#5a5a5a" stroke-width="0.5" /><line x1="625.3" y1="390" x2="625.3" y2="519" stroke="#5a5a5a" stroke-width="0.5" /><line x1="605.3" y1="400" x2="605.3" y2="408.6" stroke="#5a5a5a" stroke-width="0.5" /><line x1="593.4" y1="392.9" x2="625.3" y2="392.9" stroke="#5a5a5a" stroke-width="0.5" /><path d="M593.4,392.9 L597,391.8 L597,394 Z" fill="#5a5a5a" stroke="none"/><path d="M625.3,392.9 L621.7,394 L621.7,391.8 Z" fill="#5a5a5a" stroke="none"/><text transform="translate(609.5,392.2) scale(0.84,1)" font-family="Liberation Sans" font-size="7.2" font-weight="normal" text-anchor="middle" fill="#3a3a3a">23</text><line x1="605.3" y1="402.7" x2="625.3" y2="402.7" stroke="#5a5a5a" stroke-width="0.5" /><path d="M605.3,402.7 L608.9,401.6 L608.9,403.8 Z" fill="#5a5a5a" stroke="none"/><path d="M625.3,402.7 L621.7,403.8 L621.7,401.6 Z" fill="#5a5a5a" stroke="none"/><text transform="translate(614.2,402) scale(0.84,1)" font-family="Liberation Sans" font-size="7.2" font-weight="normal" text-anchor="middle" fill="#3a3a3a">14</text><line x1="625.3" y1="411.4" x2="637" y2="411.4" stroke="#5a5a5a" stroke-width="0.5" /><line x1="625.3" y1="428.6" x2="637" y2="428.6" stroke="#5a5a5a" stroke-width="0.5" /><line x1="634.6" y1="411.4" x2="634.6" y2="428.6" stroke="#5a5a5a" stroke-width="0.5" /><path d="M634.6,411.4 L635.7,415 L633.5,415 Z" fill="#5a5a5a" stroke="none"/><path d="M634.6,428.6 L633.5,425 L635.7,425 Z" fill="#5a5a5a" stroke="none"/><text transform="translate(633.9,408.7) rotate(-90) scale(0.82,1)" font-family="Liberation Sans" font-size="7" font-weight="normal" text-anchor="start" fill="#3a3a3a">ø12.7</text><text transform="translate(628.9,390.5) rotate(-90) scale(0.9,1)" font-family="Liberation Sans" font-size="4.5" font-weight="normal" text-anchor="start" fill="#3a3a3a">0</text><text transform="translate(634.6,393.6) rotate(-90) scale(0.95,1)" font-family="Liberation Sans" font-size="4.2" font-weight="normal" text-anchor="start" fill="#3a3a3a">-0.021</text><line x1="582.3" y1="363.2" x2="650" y2="363.2" stroke="#5a5a5a" stroke-width="0.5" /><line x1="582.3" y1="476.3" x2="650" y2="476.3" stroke="#5a5a5a" stroke-width="0.5" /><line x1="647.2" y1="363.2" x2="647.2" y2="476.3" stroke="#5a5a5a" stroke-width="0.5" /><path d="M647.2,363.2 L648.3,366.8 L646.1,366.8 Z" fill="#5a5a5a" stroke="none"/><path d="M647.2,476.3 L646.1,472.7 L648.3,472.7 Z" fill="#5a5a5a" stroke="none"/><text transform="translate(645.1,433.4) rotate(-90) scale(0.92,1)" font-family="Liberation Sans" font-size="7.6" font-weight="normal" text-anchor="start" fill="#3a3a3a">ø82.55</text><text transform="translate(640.6,410.8) rotate(-90) scale(0.75,1)" font-family="Liberation Sans" font-size="4.2" font-weight="normal" text-anchor="start" fill="#3a3a3a">-0.02</text><text transform="translate(645.8,410.8) rotate(-90) scale(0.75,1)" font-family="Liberation Sans" font-size="4.2" font-weight="normal" text-anchor="start" fill="#3a3a3a">-0.04</text><line x1="575.8" y1="507.5" x2="625.3" y2="507.5" stroke="#5a5a5a" stroke-width="0.5" /><path d="M575.8,507.5 L579.4,506.4 L579.4,508.6 Z" fill="#5a5a5a" stroke="none"/><path d="M625.3,507.5 L621.7,508.6 L621.7,506.4 Z" fill="#5a5a5a" stroke="none"/><text transform="translate(600.3,506.8) scale(0.84,1)" font-family="Liberation Sans" font-size="7.2" font-weight="normal" text-anchor="middle" fill="#3a3a3a">36</text><line x1="512" y1="507.3" x2="575.8" y2="507.3" stroke="#5a5a5a" stroke-width="0.5" /><path d="M512,507.3 L515.6,506.2 L515.6,508.4 Z" fill="#5a5a5a" stroke="none"/><path d="M575.8,507.3 L572.2,508.4 L572.2,506.2 Z" fill="#5a5a5a" stroke="none"/><text transform="translate(542,506.6) scale(0.84,1)" font-family="Liberation Sans" font-size="7.2" font-weight="normal" text-anchor="middle" fill="#3a3a3a">46.4</text><line x1="444.8" y1="518.5" x2="625.3" y2="518.5" stroke="#5a5a5a" stroke-width="0.5" /><path d="M444.8,518.5 L448.4,517.4 L448.4,519.6 Z" fill="#5a5a5a" stroke="none"/><path d="M625.3,518.5 L621.7,519.6 L621.7,517.4 Z" fill="#5a5a5a" stroke="none"/><text transform="translate(525.9,517.8) scale(0.84,1)" font-family="Liberation Sans" font-size="7.2" font-weight="normal" text-anchor="middle" fill="#3a3a3a">131.5</text></g>
<g><circle cx="548.6" cy="184.3" r="11.7" fill="none" stroke="#404040" stroke-width="1.1"/><path d="M546.3,172.8 L546.3,171.2 L550.7,171.2 L550.7,172.8" fill="none" stroke="#404040" stroke-width="0.7" stroke-linejoin="round"/><line x1="533" y1="184.3" x2="564" y2="184.3" stroke="#9a9a9a" stroke-width="0.55" stroke-dasharray="9.5 2.6 3.6 2.6"/><line x1="548.6" y1="168" x2="548.6" y2="199" stroke="#9a9a9a" stroke-width="0.55" stroke-dasharray="9.5 2.6 3.6 2.6"/><line x1="540" y1="169.5" x2="560" y2="169.5" stroke="#5a5a5a" stroke-width="0.5" /><path d="M546.3,169.5 L544.1,170.2 L544.1,168.8 Z" fill="#5a5a5a" stroke="none"/><path d="M550.7,169.5 L552.9,168.8 L552.9,170.2 Z" fill="#5a5a5a" stroke="none"/><line x1="546.3" y1="168.5" x2="546.3" y2="172" stroke="#5a5a5a" stroke-width="0.5" /><line x1="550.7" y1="168.5" x2="550.7" y2="172" stroke="#5a5a5a" stroke-width="0.5" /><text transform="translate(544.9,167.6) scale(0.85,1)" font-family="Liberation Sans" font-size="6.4" font-weight="normal" text-anchor="middle" fill="#3a3a3a">4</text><text transform="translate(548.9,163.2) scale(0.85,1)" font-family="Liberation Sans" font-size="5.0" font-weight="normal" text-anchor="middle" fill="#3a3a3a">0</text><text transform="translate(553.2,169) scale(0.85,1)" font-family="Liberation Sans" font-size="4.6" font-weight="normal" text-anchor="middle" fill="#3a3a3a">-0.025</text><path d="M598,177.3 L603,177.3 L603,197.5 L598,197.5 Z" fill="none" stroke="#404040" stroke-width="0.9" stroke-linejoin="round"/><path d="M603,176.9 L640.5,176.9 L640.5,197.8 L603,197.8 Z" fill="none" stroke="#404040" stroke-width="0.9" stroke-linejoin="round"/><line x1="638.6" y1="176.9" x2="638.6" y2="197.8" stroke="#404040" stroke-width="0.6" /><path d="M609.2,176.9 L609.2,174.2 L633.1,174.2 L633.1,176.9" fill="none" stroke="#404040" stroke-width="0.7" stroke-linejoin="round"/><line x1="600" y1="187.3" x2="640" y2="187.3" stroke="#9a9a9a" stroke-width="0.55" stroke-dasharray="9.5 2.6 3.6 2.6"/><line x1="609.2" y1="156" x2="609.2" y2="174" stroke="#5a5a5a" stroke-width="0.5" /><line x1="640.5" y1="156" x2="640.5" y2="176.5" stroke="#5a5a5a" stroke-width="0.5" /><line x1="621.6" y1="164" x2="621.6" y2="174" stroke="#5a5a5a" stroke-width="0.5" /><line x1="609.2" y1="158.3" x2="640.5" y2="158.3" stroke="#5a5a5a" stroke-width="0.5" /><path d="M609.2,158.3 L612.8,157.2 L612.8,159.4 Z" fill="#5a5a5a" stroke="none"/><path d="M640.5,158.3 L636.9,159.4 L636.9,157.2 Z" fill="#5a5a5a" stroke="none"/><text transform="translate(624.8,157) scale(0.84,1)" font-family="Liberation Sans" font-size="7.2" font-weight="normal" text-anchor="middle" fill="#3a3a3a">23</text><line x1="621.6" y1="165.9" x2="640.5" y2="165.9" stroke="#5a5a5a" stroke-width="0.5" /><path d="M621.6,165.9 L625.2,164.8 L625.2,167 Z" fill="#5a5a5a" stroke="none"/><path d="M640.5,165.9 L636.9,167 L636.9,164.8 Z" fill="#5a5a5a" stroke="none"/><text transform="translate(629.6,164.5) scale(0.84,1)" font-family="Liberation Sans" font-size="7.2" font-weight="normal" text-anchor="middle" fill="#3a3a3a">14</text><line x1="640.5" y1="176.9" x2="653" y2="176.9" stroke="#5a5a5a" stroke-width="0.5" /><line x1="640.5" y1="197.8" x2="653" y2="197.8" stroke="#5a5a5a" stroke-width="0.5" /><line x1="650.5" y1="176.9" x2="650.5" y2="197.8" stroke="#5a5a5a" stroke-width="0.5" /><path d="M650.5,176.9 L651.6,180.5 L649.4,180.5 Z" fill="#5a5a5a" stroke="none"/><path d="M650.5,197.8 L649.4,194.2 L651.6,194.2 Z" fill="#5a5a5a" stroke="none"/><text transform="translate(649,175.6) rotate(-90) scale(0.82,1)" font-family="Liberation Sans" font-size="7.5" font-weight="normal" text-anchor="start" fill="#3a3a3a">ø15.875</text><text transform="translate(645,153) rotate(-90) scale(0.9,1)" font-family="Liberation Sans" font-size="4.5" font-weight="normal" text-anchor="start" fill="#3a3a3a">0</text><text transform="translate(650.2,153.2) rotate(-90) scale(0.95,1)" font-family="Liberation Sans" font-size="4.2" font-weight="normal" text-anchor="start" fill="#3a3a3a">-0.021</text></g>
<g><path d="M443.5,207.4H450.7M444.7,208.84H449.5V210.6H444.7ZM447.1,206.6V210.6M443.1,212.2H451.1M447.1,211V214.6M443.9,214.36H450.3M454.12,206.76V214.6M452.6,209H455.4M452.76,211.56H455.24M455.96,207.24H460.44V211H455.96ZM455.96,209.16H460.44M458.2,211V214.6M455.96,212.84H460.44M463.36,206.76V214.6M462.1,209H464.9M462.26,211.56H464.74M465.46,207.24H469.94V211H465.46ZM465.46,209.16H469.94M467.7,211V214.6M465.46,212.84H469.94M473.09,206.76V214.6M471.6,209H474.4M471.76,211.56H474.24M474.96,207.24H479.44V211H474.96ZM474.96,209.16H479.44M477.2,211V214.6M474.96,212.84H479.44M483.03,206.76V214.6M481.1,209H483.9M481.26,211.56H483.74M484.46,207.24H488.94V211H484.46ZM484.46,209.16H488.94M486.7,211V214.6M484.46,212.84H488.94M491.83,206.76V214.6M490.6,209H493.4M490.76,211.56H493.24M493.96,207.24H498.44V211H493.96ZM493.96,209.16H498.44M496.2,211V214.6M493.96,212.84H498.44" fill="none" stroke="#222" stroke-width="0.85" stroke-linecap="butt"/><text transform="translate(443.1,221.8) scale(0.9,1)" font-family="Liberation Sans" font-size="7.0" font-weight="normal" text-anchor="start" fill="#222">PRESSURE ADJUSTING BOLT</text><path d="M449.4,228.2 A3.5,3.5 0 1 0 449.6,233.2" fill="none" stroke="#222" stroke-width="0.9" stroke-linejoin="round"/><path d="M454.85,234.6L455.34,231.8V227.95H461.15M455.34,229.35H460.8M456.95,230.54H460.45M458.7,229.35V234.25M456.6,232.36H460.8M456.25,234.25H461.36M463.05,234.6L463.54,231.8V227.95H469.35M463.54,229.35H469M465.15,230.54H468.65M466.9,229.35V234.25M464.8,232.36H469M464.45,234.25H469.56M471.25,234.6L471.74,231.8V227.95H477.55M471.74,229.35H477.2M473.35,230.54H476.85M475.1,229.35V234.25M473,232.36H477.2M472.65,234.25H477.76M480.28,227.74V234.6M479.1,229.7H481.55M479.24,231.94H481.41M482.04,228.16H485.96V231.45H482.04ZM482.04,229.84H485.96M484,231.45V234.6M482.04,233.06H485.96" fill="none" stroke="#222" stroke-width="0.8" stroke-linecap="butt"/><path d="M449.4,236.9 A3.5,3.5 0 1 0 449.6,241.9" fill="none" stroke="#222" stroke-width="0.9" stroke-linejoin="round"/><path d="M454.85,243.2L455.34,240.4V236.55H461.15M455.34,237.95H460.8M456.95,239.14H460.45M458.7,237.95V242.85M456.6,240.96H460.8M456.25,242.85H461.36M463.05,236.9H469.35M464.1,238.16H468.3V239.7H464.1ZM466.2,236.2V239.7M462.7,241.1H469.7M466.2,240.05V243.2M463.4,242.99H469M471.25,236.9H477.55M472.3,238.16H476.5V239.7H472.3ZM474.4,236.2V239.7M470.9,241.1H477.9M474.4,240.05V243.2M471.6,242.99H477.2M480.42,236.34V243.2M479.1,238.3H481.55M479.24,240.54H481.41M482.04,236.76H485.96V240.05H482.04ZM482.04,238.44H485.96M484,240.05V243.2M482.04,241.66H485.96" fill="none" stroke="#222" stroke-width="0.8" stroke-linecap="butt"/><line x1="496.2" y1="224.7" x2="502.8" y2="233" stroke="#333" stroke-width="0.8" /><path d="M503.4,233.8 L500.34,231.89 L502.22,230.39 Z" fill="#333" stroke="none"/><text transform="translate(512.3,307.2) scale(0.7,1)" font-family="Liberation Sans" font-size="15.2" font-weight="normal" text-anchor="middle" fill="#7c7c7c">DR</text><text transform="translate(506.8,383.6) scale(0.7,1)" font-family="Liberation Sans" font-size="15.8" font-weight="normal" text-anchor="middle" fill="#7c7c7c">OUT</text></g>
<g><path d="M399.4,584H406.6M400.6,585.44H405.4V587.2H400.6ZM403,583.2V587.2M399,588.8H407M403,587.6V591.2M399.8,590.96H406.2M410.02,583.36V591.2M408.5,585.6H411.3M408.66,588.16H411.14M411.86,583.84H416.34V587.6H411.86ZM411.86,585.76H416.34M414.1,587.6V591.2M411.86,589.44H416.34M419.26,583.36V591.2M418,585.6H420.8M418.16,588.16H420.64M421.36,583.84H425.84V587.6H421.36ZM421.36,585.76H425.84M423.6,587.6V591.2M421.36,589.44H425.84M428.99,583.36V591.2M427.5,585.6H430.3M427.66,588.16H430.14M430.86,583.84H435.34V587.6H430.86ZM430.86,585.76H435.34M433.1,587.6V591.2M430.86,589.44H435.34M438.93,583.36V591.2M437,585.6H439.8M437.16,588.16H439.64M440.36,583.84H444.84V587.6H440.36ZM440.36,585.76H444.84M442.6,587.6V591.2M440.36,589.44H444.84M447.73,583.36V591.2M446.5,585.6H449.3M446.66,588.16H449.14M449.86,583.84H454.34V587.6H449.86ZM449.86,585.76H454.34M452.1,587.6V591.2M449.86,589.44H454.34" fill="none" stroke="#222" stroke-width="0.85" stroke-linecap="butt"/><text transform="translate(399,598.4) scale(0.9,1)" font-family="Liberation Sans" font-size="7.0" font-weight="normal" text-anchor="start" fill="#222">PRESSURE ADJUSTING BOLT</text><path d="M405.3,604.8 A3.5,3.5 0 1 0 405.5,609.8" fill="none" stroke="#222" stroke-width="0.9" stroke-linejoin="round"/><path d="M410.75,611.2L411.24,608.4V604.55H417.05M411.24,605.95H416.7M412.85,607.14H416.35M414.6,605.95V610.85M412.5,608.96H416.7M412.15,610.85H417.26M418.95,611.2L419.44,608.4V604.55H425.25M419.44,605.95H424.9M421.05,607.14H424.55M422.8,605.95V610.85M420.7,608.96H424.9M420.35,610.85H425.46M427.15,611.2L427.64,608.4V604.55H433.45M427.64,605.95H433.1M429.25,607.14H432.75M431,605.95V610.85M428.9,608.96H433.1M428.55,610.85H433.66M436.18,604.34V611.2M435,606.3H437.45M435.14,608.54H437.31M437.94,604.76H441.86V608.05H437.94ZM437.94,606.44H441.86M439.9,608.05V611.2M437.94,609.66H441.86" fill="none" stroke="#222" stroke-width="0.8" stroke-linecap="butt"/><path d="M405.3,613.5 A3.5,3.5 0 1 0 405.5,618.5" fill="none" stroke="#222" stroke-width="0.9" stroke-linejoin="round"/><path d="M410.75,619.8L411.24,617V613.15H417.05M411.24,614.55H416.7M412.85,615.74H416.35M414.6,614.55V619.45M412.5,617.56H416.7M412.15,619.45H417.26M418.95,613.5H425.25M420,614.76H424.2V616.3H420ZM422.1,612.8V616.3M418.6,617.7H425.6M422.1,616.65V619.8M419.3,619.59H424.9M427.15,613.5H433.45M428.2,614.76H432.4V616.3H428.2ZM430.3,612.8V616.3M426.8,617.7H433.8M430.3,616.65V619.8M427.5,619.59H433.1M436.32,612.94V619.8M435,614.9H437.45M435.14,617.14H437.31M437.94,613.36H441.86V616.65H437.94ZM437.94,615.04H441.86M439.9,616.65V619.8M437.94,618.26H441.86" fill="none" stroke="#222" stroke-width="0.8" stroke-linecap="butt"/><line x1="452.8" y1="603.7" x2="464.4" y2="617.6" stroke="#333" stroke-width="0.7" /><path d="M465,618.4 L462.31,616.74 L463.85,615.46 Z" fill="#333" stroke="none"/><line x1="489.6" y1="574.1" x2="654.3" y2="574.1" stroke="#666" stroke-width="0.6" /><line x1="489.6" y1="584.8" x2="654.3" y2="584.8" stroke="#666" stroke-width="0.6" /><line x1="489.6" y1="595.5" x2="654.3" y2="595.5" stroke="#666" stroke-width="0.6" /><line x1="489.6" y1="606.5" x2="654.3" y2="606.5" stroke="#666" stroke-width="0.6" /><line x1="489.6" y1="617.4" x2="654.3" y2="617.4" stroke="#666" stroke-width="0.6" /><line x1="489.6" y1="628.8" x2="654.3" y2="628.8" stroke="#666" stroke-width="0.6" /><line x1="489.6" y1="574.1" x2="489.6" y2="628.8" stroke="#666" stroke-width="0.6" /><line x1="544.3" y1="574.1" x2="544.3" y2="628.8" stroke="#666" stroke-width="0.6" /><line x1="598.9" y1="574.1" x2="598.9" y2="628.8" stroke="#666" stroke-width="0.6" /><line x1="654.3" y1="574.1" x2="654.3" y2="628.8" stroke="#666" stroke-width="0.6" /><path d="M504.12,582.7L504.42,580.3V577H508M504.42,578.2H507.79M505.41,579.22H507.57M506.49,578.2V582.4M505.2,580.78H507.79M504.98,582.4H508.13M509.3,576.82V582.7M508.55,578.5H510.06M508.64,580.42H509.98M510.36,577.18H512.78V580H510.36ZM510.36,578.62H512.78M511.57,580V582.7M510.36,581.38H512.78M513.9,576.82V582.7M513.2,578.5H514.71M513.29,580.42H514.63M515.01,577.18H517.43V580H515.01ZM515.01,578.62H517.43M516.22,580V582.7M515.01,581.38H517.43M518.07,577.3H521.95M518.71,578.38H521.31V579.7H518.71ZM520.01,576.7V579.7M517.85,580.9H523.85M520.01,580V582.7M518.28,582.52H521.74" fill="none" stroke="#888" stroke-width="0.5" stroke-linecap="butt"/><path d="M504.12,593.4L504.42,591V587.7H508M504.42,588.9H507.79M505.41,589.92H507.57M506.49,588.9V593.1M505.2,591.48H507.79M504.98,593.1H508.13M508.77,588H512.65M509.41,589.08H512.01V590.4H509.41ZM510.71,587.4V590.4M508.55,591.6H514.55M510.71,590.7V593.4M508.98,593.22H512.44M514.28,587.52V593.4M513.2,589.2H514.71M513.29,591.12H514.63M515.01,587.88H517.43V590.7H515.01ZM515.01,589.32H517.43M516.22,590.7V593.4M515.01,592.08H517.43M518.07,593.4L518.37,591V587.7H521.95M518.37,588.9H521.74M519.36,589.92H521.52M520.44,588.9V593.1M519.15,591.48H521.74M518.93,593.1H522.08" fill="none" stroke="#888" stroke-width="0.5" stroke-linecap="butt"/><path d="M504.56,598.22V604.1M503.9,599.9H505.41M503.99,601.82H505.33M505.71,598.58H508.13V601.4H505.71ZM505.71,600.02H508.13M506.92,601.4V604.1M505.71,602.78H508.13M508.77,598.7H512.65M509.41,599.78H512.01V601.1H509.41ZM510.71,598.1V601.1M508.55,602.3H514.55M510.71,601.4V604.1M508.98,603.92H512.44M513.94,598.22V604.1M513.2,599.9H514.71M513.29,601.82H514.63M515.01,598.58H517.43V601.4H515.01ZM515.01,600.02H517.43M516.22,601.4V604.1M515.01,602.78H517.43M518.79,598.22V604.1M517.85,599.9H519.36M517.94,601.82H519.28M519.66,598.58H522.08V601.4H519.66ZM519.66,600.02H522.08M520.87,601.4V604.1M519.66,602.78H522.08" fill="none" stroke="#888" stroke-width="0.5" stroke-linecap="butt"/><path d="M504.67,609.22V615.1M503.9,610.9H505.41M503.99,612.82H505.33M505.71,609.58H508.13V612.4H505.71ZM505.71,611.02H508.13M506.92,612.4V615.1M505.71,613.78H508.13M509.61,609.22V615.1M508.55,610.9H510.06M508.64,612.82H509.98M510.36,609.58H512.78V612.4H510.36ZM510.36,611.02H512.78M511.57,612.4V615.1M510.36,613.78H512.78M513.42,609.7H517.3M514.06,610.78H516.66V612.1H514.06ZM515.36,609.1V612.1M513.2,613.3H519.2M515.36,612.4V615.1M513.63,614.92H517.09M518.69,609.22V615.1M517.85,610.9H519.36M517.94,612.82H519.28M519.66,609.58H522.08V612.4H519.66ZM519.66,611.02H522.08M520.87,612.4V615.1M519.66,613.78H522.08" fill="none" stroke="#888" stroke-width="0.5" stroke-linecap="butt"/><path d="M504.12,626L504.42,623.6V620.3H508M504.42,621.5H507.79M505.41,622.52H507.57M506.49,621.5V625.7M505.2,624.08H507.79M504.98,625.7H508.13M509.27,620.12V626M508.55,621.8H510.06M508.64,623.72H509.98M510.36,620.48H512.78V623.3H510.36ZM510.36,621.92H512.78M511.57,623.3V626M510.36,624.68H512.78M513.97,620.12V626M513.2,621.8H514.71M513.29,623.72H514.63M515.01,620.48H517.43V623.3H515.01ZM515.01,621.92H517.43M516.22,623.3V626M515.01,624.68H517.43M518.55,620.12V626M517.85,621.8H519.36M517.94,623.72H519.28M519.66,620.48H522.08V623.3H519.66ZM519.66,621.92H522.08M520.87,623.3V626M519.66,624.68H522.08" fill="none" stroke="#888" stroke-width="0.5" stroke-linecap="butt"/><text transform="translate(545.6,582.5) scale(0.8,1)" font-family="Liberation Sans" font-size="7.8" font-weight="normal" text-anchor="start" fill="#333">5</text><text transform="translate(600.2,582.5) scale(0.8,1)" font-family="Liberation Sans" font-size="7.8" font-weight="normal" text-anchor="start" fill="#333">5</text><text transform="translate(545.6,593.2) scale(0.8,1)" font-family="Liberation Sans" font-size="7.8" font-weight="normal" text-anchor="start" fill="#333">30°</text><text transform="translate(600.2,593.2) scale(0.8,1)" font-family="Liberation Sans" font-size="7.8" font-weight="normal" text-anchor="start" fill="#333">30°</text><text transform="translate(545.6,604.2) scale(0.8,1)" font-family="Liberation Sans" font-size="7.8" font-weight="normal" text-anchor="start" fill="#333">9</text><text transform="translate(600.2,604.2) scale(0.8,1)" font-family="Liberation Sans" font-size="7.8" font-weight="normal" text-anchor="start" fill="#333">7</text><path d="M549.74,581.9L549.95,580.46V578.48H552.34M549.95,579.2H552.19M550.61,579.81H552.05M551.33,579.2V581.72M550.46,580.75H552.19M550.32,581.72H552.42" fill="none" stroke="#555" stroke-width="0.45" stroke-linecap="butt"/><path d="M604.87,578.37V581.9M604.2,579.38H605.21M604.26,580.53H605.15M605.41,578.59H607.02V580.28H605.41ZM605.41,579.45H607.02M606.22,580.28V581.9M605.41,581.11H607.02" fill="none" stroke="#555" stroke-width="0.45" stroke-linecap="butt"/><text x="544.6" y="615.3" font-family="Liberation Sans" font-size="7.4" fill="#333" textLength="46.3" lengthAdjust="spacingAndGlyphs">1.5875mm (1/16</text><text x="600.5" y="615.3" font-family="Liberation Sans" font-size="7.4" fill="#333" textLength="48.1" lengthAdjust="spacingAndGlyphs">.5875mm (1/16</text><path d="M591.63,610.62H595.85M592.34,611.56H595.14V612.7H592.34ZM593.74,610.1V612.7M591.4,613.74H596.6M593.74,612.96V615.3M591.87,615.14H595.61" fill="none" stroke="#555" stroke-width="0.45" stroke-linecap="butt"/><path d="M650.01,610.2V615.3M649.2,611.66H650.66M649.28,613.32H650.57M650.95,610.52H653.28V612.96H650.95ZM650.95,611.76H653.28M652.11,612.96V615.3M650.95,614.16H653.28" fill="none" stroke="#555" stroke-width="0.45" stroke-linecap="butt"/><path d="M545.04,620.46H549.31M545.75,621.65H548.6V623.1H545.75ZM547.18,619.8V623.1M544.8,624.42H551.4M547.18,623.43V626.4M545.28,626.2H549.08M549.69,620.46H553.96M550.4,621.65H553.25V623.1H550.4ZM551.83,619.8V623.1M549.45,624.42H556.05M551.83,623.43V626.4M549.93,626.2H553.73M554.94,619.93V626.4M554.1,621.78H555.76M554.2,623.89H555.67M556.1,620.33H558.76V623.43H556.1ZM556.1,621.91H558.76M557.43,623.43V626.4M556.1,624.95H558.76M558.99,626.4L559.32,623.76V620.13H563.26M559.32,621.45H563.03M560.41,622.57H562.79M561.6,621.45V626.07M560.18,624.29H563.03M559.94,626.07H563.41M563.64,626.4L563.97,623.76V620.13H567.91M563.97,621.45H567.68M565.06,622.57H567.44M566.25,621.45V626.07M564.83,624.29H567.68M564.59,626.07H568.06M568.29,620.46H572.56M569,621.65H571.85V623.1H569ZM570.43,619.8V623.1M568.05,624.42H574.65M570.43,623.43V626.4M568.53,626.2H572.33M573.79,619.93V626.4M572.7,621.78H574.36M572.8,623.89H574.27M574.7,620.33H577.36V623.43H574.7ZM574.7,621.91H577.36M576.03,623.43V626.4M574.7,624.95H577.36M578.38,619.93V626.4M577.35,621.78H579.01M577.45,623.89H578.92M579.35,620.33H582.01V623.43H579.35ZM579.35,621.91H582.01M580.68,623.43V626.4M579.35,624.95H582.01" fill="none" stroke="#777" stroke-width="0.5" stroke-linecap="butt"/><path d="M601.04,626.4L601.37,623.76V620.13H605.31M601.37,621.45H605.08M602.46,622.57H604.84M603.65,621.45V626.07M602.23,624.29H605.08M601.99,626.07H605.46M606.28,619.93V626.4M605.3,621.78H606.96M605.4,623.89H606.87M607.3,620.33H609.96V623.43H607.3ZM607.3,621.91H609.96M608.63,623.43V626.4M607.3,624.95H609.96M610.04,620.46H614.31M610.75,621.65H613.6V623.1H610.75ZM612.18,619.8V623.1M609.8,624.42H616.4M612.18,623.43V626.4M610.28,626.2H614.08M614.54,620.46H618.81M615.25,621.65H618.1V623.1H615.25ZM616.68,619.8V623.1M614.3,624.42H620.9M616.68,623.43V626.4M614.78,626.2H618.58M619.04,620.46H623.31M619.75,621.65H622.6V623.1H619.75ZM621.18,619.8V623.1M618.8,624.42H625.4M621.18,623.43V626.4M619.28,626.2H623.08M624.24,619.93V626.4M623.3,621.78H624.96M623.4,623.89H624.87M625.3,620.33H627.96V623.43H625.3ZM625.3,621.91H627.96M626.63,623.43V626.4M625.3,624.95H627.96M628.04,620.46H632.31M628.75,621.65H631.6V623.1H628.75ZM630.18,619.8V623.1M627.8,624.42H634.4M630.18,623.43V626.4M628.28,626.2H632.08M633.21,619.93V626.4M632.3,621.78H633.96M632.4,623.89H633.87M634.3,620.33H636.96V623.43H634.3ZM634.3,621.91H636.96M635.63,623.43V626.4M634.3,624.95H636.96" fill="none" stroke="#777" stroke-width="0.5" stroke-linecap="butt"/><line x1="633.4" y1="631.2" x2="620.5" y2="651.8" stroke="#333" stroke-width="0.6" /><path d="M619.6,653.4 L620.42,650.38 L621.95,651.33 Z" fill="#333" stroke="none"/><path d="M524.8,667.5 L579.4,667.5 L579.4,690.2 L524.8,690.2" fill="none" stroke="#404040" stroke-width="1.0" stroke-linejoin="round"/><line x1="529.6" y1="667.5" x2="529.6" y2="690.2" stroke="#404040" stroke-width="1.0" /><line x1="577" y1="667.5" x2="577" y2="690.2" stroke="#404040" stroke-width="0.6" /><line x1="533.5" y1="671.3" x2="577" y2="671.3" stroke="#555" stroke-width="0.7" stroke-dasharray="4.2 2.4"/><line x1="533.5" y1="686.5" x2="577" y2="686.5" stroke="#555" stroke-width="0.7" stroke-dasharray="4.2 2.4"/><line x1="530" y1="669.2" x2="547" y2="669.2" stroke="#bbb" stroke-width="0.6" /><line x1="530" y1="688.6" x2="547" y2="688.6" stroke="#bbb" stroke-width="0.6" /><line x1="524.8" y1="667.5" x2="533.5" y2="671.4" stroke="#404040" stroke-width="0.7" /><line x1="524.8" y1="690.2" x2="533.5" y2="686.4" stroke="#404040" stroke-width="0.7" /><line x1="520" y1="678.5" x2="584" y2="678.5" stroke="#9a9a9a" stroke-width="0.55" stroke-dasharray="9.5 2.6 3.6 2.6"/><line x1="579.4" y1="667.5" x2="594" y2="667.5" stroke="#5a5a5a" stroke-width="0.5" /><line x1="579.4" y1="690.2" x2="594" y2="690.2" stroke="#5a5a5a" stroke-width="0.5" /><line x1="579.4" y1="690.2" x2="579.4" y2="703" stroke="#5a5a5a" stroke-width="0.5" /><line x1="591.8" y1="667.5" x2="591.8" y2="690.2" stroke="#5a5a5a" stroke-width="0.5" /><path d="M591.8,667.5 L592.9,671.1 L590.7,671.1 Z" fill="#5a5a5a" stroke="none"/><path d="M591.8,690.2 L590.7,686.6 L592.9,686.6 Z" fill="#5a5a5a" stroke="none"/><text transform="translate(591.6,688.8) rotate(-90) scale(0.78,1)" font-family="Liberation Sans" font-size="9.8" font-weight="normal" text-anchor="start" fill="#333">ø12.7</text><text transform="translate(605.2,696.8) rotate(-90) scale(0.95,1)" font-family="Liberation Sans" font-size="9.8" font-weight="normal" text-anchor="start" fill="#333">ø82.55</text><text transform="translate(601.6,667.4) rotate(-90) scale(0.8,1)" font-family="Liberation Sans" font-size="5.6" font-weight="normal" text-anchor="start" fill="#333">-0.02</text><text transform="translate(607.4,667.4) rotate(-90) scale(0.8,1)" font-family="Liberation Sans" font-size="5.6" font-weight="normal" text-anchor="start" fill="#333">-0.04</text><circle cx="633.7" cy="679" r="15.6" fill="none" stroke="#404040" stroke-width="1.0"/><circle cx="633.7" cy="679" r="13.6" fill="none" stroke="#404040" stroke-width="0.8"/><path d="M633.7,670.2 L633.86,669.79 L634.03,669.5 L634.21,669.26 L634.4,669.05 L634.59,668.87 L634.78,668.74 L634.97,668.64 L635.17,668.57 L635.36,668.55 L635.54,668.56 L635.72,668.61 L635.89,668.7 L636.05,668.83 L636.2,668.99 L636.33,669.18 L636.45,669.41 L636.55,669.67 L636.64,669.96 L636.7,670.29 L636.71,670.73 L636.71,671.17 L636.73,671.49 L636.76,671.78 L636.8,672.04 L636.84,672.26 L636.89,672.46 L636.95,672.62 L637.02,672.76 L637.1,672.86 L637.2,672.94 L637.31,672.98 L637.45,673 L637.6,673 L637.77,672.96 L637.97,672.91 L638.18,672.83 L638.42,672.74 L638.68,672.62 L638.98,672.48 L639.36,672.26 L639.74,672.05 L640.06,671.94 L640.35,671.86 L640.63,671.82 L640.89,671.81 L641.12,671.83 L641.34,671.88 L641.52,671.95 L641.69,672.06 L641.82,672.19 L641.92,672.34 L642,672.52 L642.04,672.72 L642.05,672.93 L642.03,673.17 L641.97,673.42 L641.88,673.69 L641.76,673.96 L641.59,674.26 L641.32,674.6 L641.04,674.93 L640.85,675.2 L640.69,675.44 L640.55,675.66 L640.44,675.86 L640.35,676.04 L640.29,676.2 L640.26,676.35 L640.25,676.49 L640.28,676.61 L640.34,676.72 L640.42,676.81 L640.55,676.91 L640.7,676.99 L640.88,677.08 L641.1,677.16 L641.34,677.24 L641.62,677.32 L641.94,677.4 L642.37,677.47 L642.79,677.56 L643.11,677.68 L643.38,677.81 L643.62,677.96 L643.83,678.11 L643.99,678.28 L644.13,678.45 L644.22,678.63 L644.28,678.82 L644.3,679 L644.28,679.18 L644.22,679.37 L644.13,679.55 L643.99,679.72 L643.83,679.89 L643.62,680.04 L643.38,680.19 L643.11,680.32 L642.79,680.44 L642.37,680.53 L641.94,680.6 L641.62,680.68 L641.34,680.76 L641.1,680.84 L640.88,680.92 L640.7,681.01 L640.55,681.09 L640.42,681.19 L640.34,681.28 L640.28,681.39 L640.25,681.51 L640.26,681.65 L640.29,681.8 L640.35,681.96 L640.44,682.14 L640.55,682.34 L640.69,682.56 L640.85,682.8 L641.04,683.07 L641.32,683.4 L641.59,683.74 L641.76,684.04 L641.88,684.31 L641.97,684.58 L642.03,684.83 L642.05,685.07 L642.04,685.28 L642,685.48 L641.92,685.66 L641.82,685.81 L641.69,685.94 L641.52,686.05 L641.34,686.12 L641.12,686.17 L640.89,686.19 L640.63,686.18 L640.35,686.14 L640.06,686.06 L639.74,685.95 L639.36,685.74 L638.98,685.52 L638.68,685.38 L638.42,685.26 L638.18,685.17 L637.97,685.09 L637.77,685.04 L637.6,685 L637.45,685 L637.31,685.02 L637.2,685.06 L637.1,685.14 L637.02,685.24 L636.95,685.38 L636.89,685.54 L636.84,685.74 L636.8,685.96 L636.76,686.22 L636.73,686.51 L636.71,686.83 L636.71,687.27 L636.7,687.71 L636.64,688.04 L636.55,688.33 L636.45,688.59 L636.33,688.82 L636.2,689.01 L636.05,689.17 L635.89,689.3 L635.72,689.39 L635.54,689.44 L635.36,689.45 L635.17,689.43 L634.97,689.36 L634.78,689.26 L634.59,689.13 L634.4,688.95 L634.21,688.74 L634.03,688.5 L633.86,688.21 L633.7,687.8 L633.55,687.39 L633.42,687.09 L633.29,686.83 L633.17,686.6 L633.05,686.41 L632.94,686.24 L632.83,686.11 L632.72,686 L632.6,685.93 L632.48,685.89 L632.36,685.89 L632.23,685.92 L632.09,685.98 L631.94,686.06 L631.78,686.18 L631.6,686.33 L631.41,686.5 L631.2,686.7 L630.97,686.93 L630.69,687.27 L630.4,687.6 L630.14,687.81 L629.89,687.98 L629.64,688.11 L629.4,688.21 L629.18,688.27 L628.96,688.3 L628.76,688.3 L628.57,688.26 L628.4,688.18 L628.25,688.07 L628.12,687.93 L628.01,687.76 L627.93,687.56 L627.87,687.33 L627.84,687.07 L627.83,686.79 L627.85,686.49 L627.91,686.16 L628.04,685.74 L628.19,685.33 L628.28,685.02 L628.35,684.74 L628.4,684.48 L628.44,684.26 L628.46,684.06 L628.46,683.88 L628.45,683.73 L628.4,683.6 L628.34,683.5 L628.25,683.42 L628.13,683.35 L627.98,683.31 L627.81,683.28 L627.61,683.27 L627.38,683.26 L627.12,683.27 L626.83,683.29 L626.51,683.32 L626.08,683.4 L625.65,683.46 L625.31,683.46 L625.01,683.43 L624.73,683.37 L624.49,683.3 L624.27,683.2 L624.09,683.08 L623.94,682.94 L623.82,682.79 L623.74,682.63 L623.69,682.45 L623.69,682.25 L623.71,682.05 L623.78,681.84 L623.88,681.63 L624.02,681.41 L624.19,681.19 L624.4,680.98 L624.66,680.76 L625.03,680.53 L625.41,680.31 L625.68,680.13 L625.92,679.96 L626.12,679.8 L626.29,679.65 L626.44,679.51 L626.55,679.37 L626.63,679.25 L626.68,679.12 L626.7,679 L626.68,678.88 L626.63,678.75 L626.55,678.63 L626.44,678.49 L626.29,678.35 L626.12,678.2 L625.92,678.04 L625.68,677.87 L625.41,677.69 L625.03,677.47 L624.66,677.24 L624.4,677.02 L624.19,676.81 L624.02,676.59 L623.88,676.37 L623.78,676.16 L623.71,675.95 L623.69,675.75 L623.69,675.55 L623.74,675.37 L623.82,675.21 L623.94,675.06 L624.09,674.92 L624.27,674.8 L624.49,674.7 L624.73,674.63 L625.01,674.57 L625.31,674.54 L625.65,674.54 L626.08,674.6 L626.51,674.68 L626.83,674.71 L627.12,674.73 L627.38,674.74 L627.61,674.73 L627.81,674.72 L627.98,674.69 L628.13,674.65 L628.25,674.58 L628.34,674.5 L628.4,674.4 L628.45,674.27 L628.46,674.12 L628.46,673.94 L628.44,673.74 L628.4,673.52 L628.35,673.26 L628.28,672.98 L628.19,672.67 L628.04,672.26 L627.91,671.84 L627.85,671.51 L627.83,671.21 L627.84,670.93 L627.87,670.67 L627.93,670.44 L628.01,670.24 L628.12,670.07 L628.25,669.93 L628.4,669.82 L628.57,669.74 L628.76,669.7 L628.96,669.7 L629.18,669.73 L629.4,669.79 L629.64,669.89 L629.89,670.02 L630.14,670.19 L630.4,670.4 L630.69,670.73 L630.97,671.07 L631.2,671.3 L631.41,671.5 L631.6,671.67 L631.78,671.82 L631.94,671.94 L632.09,672.02 L632.23,672.08 L632.36,672.11 L632.48,672.11 L632.6,672.07 L632.72,672 L632.83,671.89 L632.94,671.76 L633.05,671.59 L633.17,671.4 L633.29,671.17 L633.42,670.91 L633.55,670.61 L633.7,670.2 Z" fill="none" stroke="#404040" stroke-width="0.8" stroke-linejoin="round"/><line x1="613" y1="679" x2="654" y2="679" stroke="#9a9a9a" stroke-width="0.55" stroke-dasharray="9.5 2.6 3.6 2.6"/><line x1="633.7" y1="658" x2="633.7" y2="700" stroke="#9a9a9a" stroke-width="0.55" stroke-dasharray="9.5 2.6 3.6 2.6"/><path d="M548.8,782.6 H573.6 Q575.4,782.6 575.4,784.4 V801.9 Q575.4,803.7 573.6,803.7 H548.8 Q547.1,803.7 547.1,801.9 V784.4 Q547.1,782.6 548.8,782.6 Z" fill="none" stroke="#404040" stroke-width="0.9" stroke-linejoin="round"/><line x1="541.9" y1="785.5" x2="575.4" y2="785.5" stroke="#404040" stroke-width="0.8" /><line x1="541.9" y1="800.7" x2="575.4" y2="800.7" stroke="#404040" stroke-width="0.8" /><line x1="549" y1="782.6" x2="549" y2="803.7" stroke="#404040" stroke-width="0.6" /><line x1="573.6" y1="782.6" x2="573.6" y2="803.7" stroke="#404040" stroke-width="0.6" /><line x1="550" y1="783.7" x2="573" y2="783.7" stroke="#999" stroke-width="0.5" stroke-dasharray="3 1.5"/><line x1="550" y1="802.4" x2="573" y2="802.4" stroke="#999" stroke-width="0.5" stroke-dasharray="3 1.5"/><line x1="575.1" y1="783.3" x2="590" y2="783.3" stroke="#5a5a5a" stroke-width="0.5" /><line x1="575.1" y1="802.9" x2="590" y2="802.9" stroke="#5a5a5a" stroke-width="0.5" /><line x1="587.8" y1="783.3" x2="587.8" y2="802.9" stroke="#5a5a5a" stroke-width="0.5" /><path d="M587.8,783.3 L588.9,786.9 L586.7,786.9 Z" fill="#5a5a5a" stroke="none"/><path d="M587.8,802.9 L586.7,799.3 L588.9,799.3 Z" fill="#5a5a5a" stroke="none"/><text transform="translate(587.6,802.9) rotate(-90) scale(0.72,1)" font-family="Liberation Sans" font-size="8" font-weight="normal" text-anchor="start" fill="#333">ø15.875</text><line x1="541.9" y1="739.6" x2="604" y2="739.6" stroke="#5a5a5a" stroke-width="0.5" /><line x1="541.9" y1="846" x2="604" y2="846" stroke="#5a5a5a" stroke-width="0.5" /><line x1="601.4" y1="739.6" x2="601.4" y2="846" stroke="#5a5a5a" stroke-width="0.5" /><path d="M601.4,739.6 L602.5,743.2 L600.3,743.2 Z" fill="#5a5a5a" stroke="none"/><path d="M601.4,846 L600.3,842.4 L602.5,842.4 Z" fill="#5a5a5a" stroke="none"/><text transform="translate(601.2,806) rotate(-90) scale(0.8,1)" font-family="Liberation Sans" font-size="8" font-weight="normal" text-anchor="start" fill="#333">ø82.55</text><text transform="translate(597.2,785.6) rotate(-90) scale(0.75,1)" font-family="Liberation Sans" font-size="4.6" font-weight="normal" text-anchor="start" fill="#333">-0.02</text><text transform="translate(601.8,785.6) rotate(-90) scale(0.75,1)" font-family="Liberation Sans" font-size="4.6" font-weight="normal" text-anchor="start" fill="#333">-0.04</text><line x1="575.1" y1="802.9" x2="575.1" y2="889" stroke="#5a5a5a" stroke-width="0.5" /><line x1="534" y1="875" x2="575.1" y2="875" stroke="#5a5a5a" stroke-width="0.5" /><path d="M534,875 L537.6,873.9 L537.6,876.1 Z" fill="#5a5a5a" stroke="none"/><path d="M575.1,875 L571.5,876.1 L571.5,873.9 Z" fill="#5a5a5a" stroke="none"/><text transform="translate(557.1,874.3) scale(0.84,1)" font-family="Liberation Sans" font-size="7.2" font-weight="normal" text-anchor="middle" fill="#3a3a3a">31</text><line x1="476.1" y1="875" x2="534" y2="875" stroke="#5a5a5a" stroke-width="0.5" /><path d="M476.1,875 L479.7,873.9 L479.7,876.1 Z" fill="#5a5a5a" stroke="none"/><path d="M534,875 L530.4,876.1 L530.4,873.9 Z" fill="#5a5a5a" stroke="none"/><text transform="translate(504.6,874.3) scale(0.84,1)" font-family="Liberation Sans" font-size="7.2" font-weight="normal" text-anchor="middle" fill="#3a3a3a">46.4</text><line x1="413.7" y1="886.1" x2="575.1" y2="886.1" stroke="#5a5a5a" stroke-width="0.5" /><path d="M413.7,886.1 L417.3,885 L417.3,887.2 Z" fill="#5a5a5a" stroke="none"/><path d="M575.1,886.1 L571.5,887.2 L571.5,885 Z" fill="#5a5a5a" stroke="none"/><text transform="translate(489.7,885.4) scale(0.84,1)" font-family="Liberation Sans" font-size="7.2" font-weight="normal" text-anchor="middle" fill="#3a3a3a">126.5</text><text transform="translate(476.1,688.2) scale(0.7,1)" font-family="Liberation Sans" font-size="14.2" font-weight="normal" text-anchor="middle" fill="#7c7c7c">DR</text><text transform="translate(471.5,759.8) scale(0.7,1)" font-family="Liberation Sans" font-size="14.8" font-weight="normal" text-anchor="middle" fill="#7c7c7c">OUT</text></g>
</svg>
</body></html>
